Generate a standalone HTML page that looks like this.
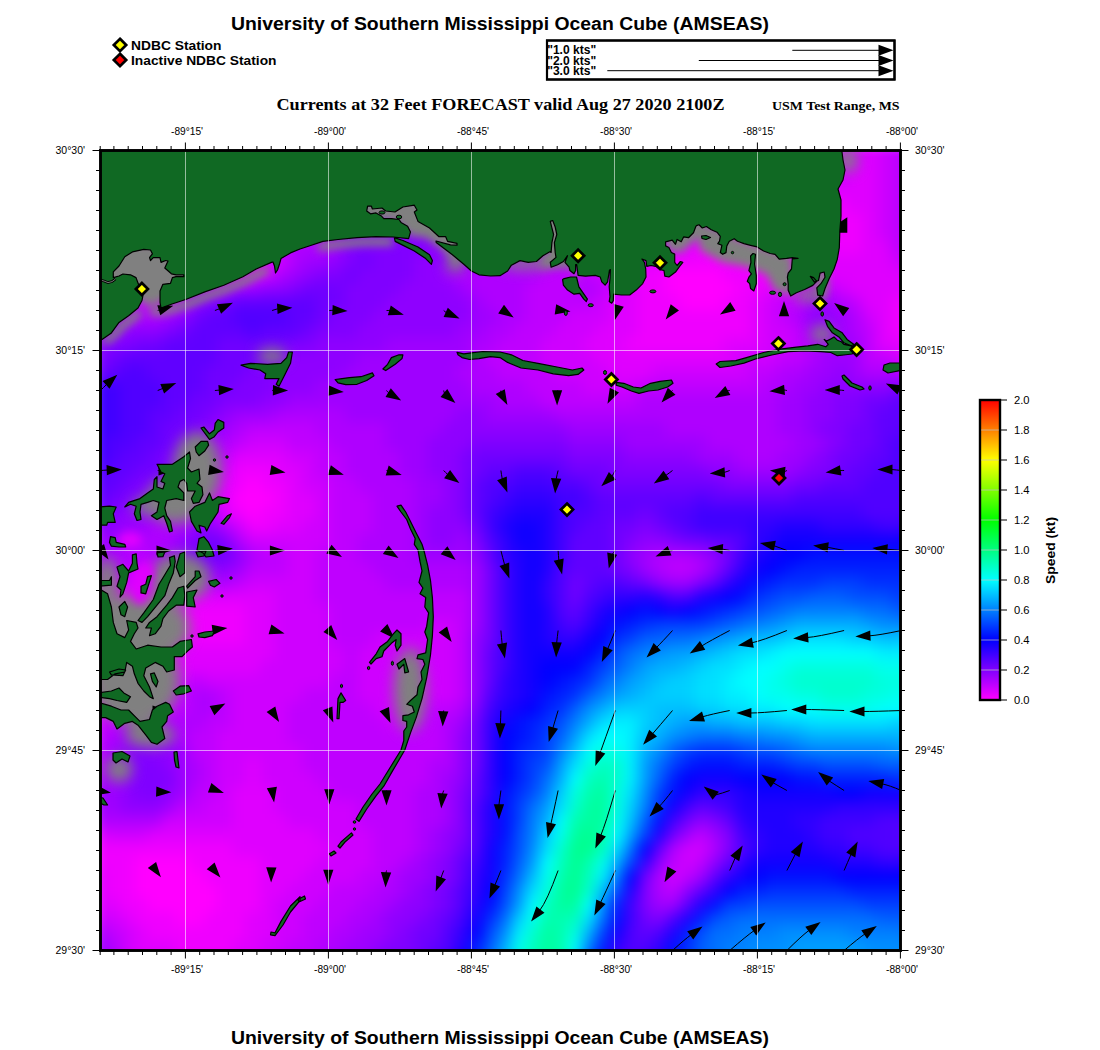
<!DOCTYPE html>
<html><head><meta charset="utf-8"><title>Currents</title>
<style>html,body{margin:0;padding:0;background:#fff}svg{display:block}text{font-family:"Liberation Sans",sans-serif;fill:#000}.ser{font-family:"Liberation Serif",serif;font-weight:bold}.b{font-weight:bold}.ax{font-size:10px}</style></head><body>
<svg width="1100" height="1050" viewBox="0 0 1100 1050">
<defs><clipPath id="mc"><rect x="100.5" y="150.5" width="800" height="800"/></clipPath>
<filter id="bl" color-interpolation-filters="sRGB" x="-10%" y="-10%" width="120%" height="120%"><feGaussianBlur stdDeviation="7"/></filter>
<filter id="bg" color-interpolation-filters="sRGB" x="-50%" y="-50%" width="200%" height="200%"><feGaussianBlur stdDeviation="7"/></filter>
<filter id="bg2" color-interpolation-filters="sRGB" x="-50%" y="-50%" width="200%" height="200%"><feGaussianBlur stdDeviation="4"/></filter>
<linearGradient id="cb" x1="0" y1="0" x2="0" y2="1"><stop offset="0" stop-color="#ff0000"/><stop offset="0.1" stop-color="#ff8000"/><stop offset="0.2" stop-color="#ffff00"/><stop offset="0.3" stop-color="#80ff00"/><stop offset="0.4" stop-color="#00ff00"/><stop offset="0.5" stop-color="#00ff80"/><stop offset="0.6" stop-color="#00ffff"/><stop offset="0.7" stop-color="#0080ff"/><stop offset="0.8" stop-color="#0000ff"/><stop offset="0.9" stop-color="#8000ff"/><stop offset="1" stop-color="#ff00ff"/></linearGradient>
</defs>
<rect width="1100" height="1050" fill="#fff"/>
<g clip-path="url(#mc)">
<g filter="url(#bl)"><rect x="92" y="142" width="127" height="15" fill="#df00ff"/><rect x="218" y="142" width="15" height="15" fill="#ef00ff"/><rect x="232" y="142" width="15" height="15" fill="#bf00ff"/><rect x="246" y="142" width="43" height="15" fill="#9f00ff"/><rect x="288" y="142" width="15" height="15" fill="#bf00ff"/><rect x="302" y="142" width="15" height="15" fill="#af00ff"/><rect x="316" y="142" width="15" height="15" fill="#8f00ff"/><rect x="330" y="142" width="141" height="15" fill="#8000ff"/><rect x="470" y="142" width="15" height="15" fill="#8f00ff"/><rect x="484" y="142" width="57" height="15" fill="#af00ff"/><rect x="540" y="142" width="57" height="15" fill="#bf00ff"/><rect x="596" y="142" width="43" height="15" fill="#df00ff"/><rect x="638" y="142" width="85" height="15" fill="#ff00ff"/><rect x="722" y="142" width="15" height="15" fill="#df00ff"/><rect x="736" y="142" width="127" height="15" fill="#cf00ff"/><rect x="862" y="142" width="15" height="15" fill="#df00ff"/><rect x="876" y="142" width="15" height="15" fill="#cf00ff"/><rect x="890" y="142" width="15" height="15" fill="#bf00ff"/><rect x="904" y="142" width="29" height="15" fill="#af00ff"/><rect x="92" y="156" width="127" height="15" fill="#df00ff"/><rect x="218" y="156" width="15" height="15" fill="#ef00ff"/><rect x="232" y="156" width="15" height="15" fill="#df00ff"/><rect x="246" y="156" width="15" height="15" fill="#af00ff"/><rect x="260" y="156" width="29" height="15" fill="#9f00ff"/><rect x="288" y="156" width="29" height="15" fill="#bf00ff"/><rect x="316" y="156" width="15" height="15" fill="#af00ff"/><rect x="330" y="156" width="15" height="15" fill="#8f00ff"/><rect x="344" y="156" width="127" height="15" fill="#8000ff"/><rect x="470" y="156" width="15" height="15" fill="#8f00ff"/><rect x="484" y="156" width="57" height="15" fill="#af00ff"/><rect x="540" y="156" width="57" height="15" fill="#bf00ff"/><rect x="596" y="156" width="43" height="15" fill="#df00ff"/><rect x="638" y="156" width="85" height="15" fill="#ff00ff"/><rect x="722" y="156" width="15" height="15" fill="#df00ff"/><rect x="736" y="156" width="127" height="15" fill="#cf00ff"/><rect x="862" y="156" width="15" height="15" fill="#df00ff"/><rect x="876" y="156" width="15" height="15" fill="#cf00ff"/><rect x="890" y="156" width="15" height="15" fill="#bf00ff"/><rect x="904" y="156" width="29" height="15" fill="#af00ff"/><rect x="92" y="170" width="127" height="15" fill="#df00ff"/><rect x="218" y="170" width="29" height="15" fill="#ef00ff"/><rect x="246" y="170" width="15" height="15" fill="#bf00ff"/><rect x="260" y="170" width="29" height="15" fill="#9f00ff"/><rect x="288" y="170" width="29" height="15" fill="#bf00ff"/><rect x="316" y="170" width="15" height="15" fill="#af00ff"/><rect x="330" y="170" width="15" height="15" fill="#8f00ff"/><rect x="344" y="170" width="113" height="15" fill="#8000ff"/><rect x="456" y="170" width="15" height="15" fill="#8f00ff"/><rect x="470" y="170" width="15" height="15" fill="#af00ff"/><rect x="484" y="170" width="15" height="15" fill="#bf00ff"/><rect x="498" y="170" width="43" height="15" fill="#af00ff"/><rect x="540" y="170" width="57" height="15" fill="#bf00ff"/><rect x="596" y="170" width="43" height="15" fill="#df00ff"/><rect x="638" y="170" width="85" height="15" fill="#ef00ff"/><rect x="722" y="170" width="15" height="15" fill="#cf00ff"/><rect x="736" y="170" width="57" height="15" fill="#bf00ff"/><rect x="792" y="170" width="57" height="15" fill="#cf00ff"/><rect x="848" y="170" width="29" height="15" fill="#df00ff"/><rect x="876" y="170" width="15" height="15" fill="#cf00ff"/><rect x="890" y="170" width="15" height="15" fill="#bf00ff"/><rect x="904" y="170" width="29" height="15" fill="#af00ff"/><rect x="92" y="184" width="127" height="15" fill="#df00ff"/><rect x="218" y="184" width="15" height="15" fill="#ef00ff"/><rect x="232" y="184" width="15" height="15" fill="#ff00ff"/><rect x="246" y="184" width="15" height="15" fill="#df00ff"/><rect x="260" y="184" width="15" height="15" fill="#af00ff"/><rect x="274" y="184" width="15" height="15" fill="#9f00ff"/><rect x="288" y="184" width="15" height="15" fill="#af00ff"/><rect x="302" y="184" width="15" height="15" fill="#bf00ff"/><rect x="316" y="184" width="15" height="15" fill="#af00ff"/><rect x="330" y="184" width="15" height="15" fill="#8f00ff"/><rect x="344" y="184" width="113" height="15" fill="#8000ff"/><rect x="456" y="184" width="15" height="15" fill="#8f00ff"/><rect x="470" y="184" width="15" height="15" fill="#af00ff"/><rect x="484" y="184" width="29" height="15" fill="#bf00ff"/><rect x="512" y="184" width="29" height="15" fill="#af00ff"/><rect x="540" y="184" width="57" height="15" fill="#bf00ff"/><rect x="596" y="184" width="29" height="15" fill="#cf00ff"/><rect x="624" y="184" width="141" height="15" fill="#bf00ff"/><rect x="764" y="184" width="43" height="15" fill="#cf00ff"/><rect x="806" y="184" width="71" height="15" fill="#df00ff"/><rect x="876" y="184" width="15" height="15" fill="#cf00ff"/><rect x="890" y="184" width="15" height="15" fill="#bf00ff"/><rect x="904" y="184" width="29" height="15" fill="#af00ff"/><rect x="92" y="198" width="113" height="15" fill="#df00ff"/><rect x="204" y="198" width="15" height="15" fill="#cf00ff"/><rect x="218" y="198" width="15" height="15" fill="#ef00ff"/><rect x="232" y="198" width="15" height="15" fill="#ff00ff"/><rect x="246" y="198" width="15" height="15" fill="#ef00ff"/><rect x="260" y="198" width="15" height="15" fill="#bf00ff"/><rect x="274" y="198" width="15" height="15" fill="#9f00ff"/><rect x="288" y="198" width="15" height="15" fill="#af00ff"/><rect x="302" y="198" width="15" height="15" fill="#bf00ff"/><rect x="316" y="198" width="15" height="15" fill="#af00ff"/><rect x="330" y="198" width="15" height="15" fill="#8f00ff"/><rect x="344" y="198" width="43" height="15" fill="#8000ff"/><rect x="386" y="198" width="71" height="15" fill="#8f00ff"/><rect x="456" y="198" width="15" height="15" fill="#9f00ff"/><rect x="470" y="198" width="15" height="15" fill="#af00ff"/><rect x="484" y="198" width="43" height="15" fill="#bf00ff"/><rect x="526" y="198" width="29" height="15" fill="#af00ff"/><rect x="554" y="198" width="29" height="15" fill="#9f00ff"/><rect x="582" y="198" width="99" height="15" fill="#af00ff"/><rect x="680" y="198" width="57" height="15" fill="#bf00ff"/><rect x="736" y="198" width="29" height="15" fill="#cf00ff"/><rect x="764" y="198" width="71" height="15" fill="#df00ff"/><rect x="834" y="198" width="15" height="15" fill="#ef00ff"/><rect x="848" y="198" width="29" height="15" fill="#df00ff"/><rect x="876" y="198" width="15" height="15" fill="#cf00ff"/><rect x="890" y="198" width="15" height="15" fill="#bf00ff"/><rect x="904" y="198" width="29" height="15" fill="#af00ff"/><rect x="92" y="212" width="99" height="15" fill="#df00ff"/><rect x="190" y="212" width="29" height="15" fill="#cf00ff"/><rect x="218" y="212" width="15" height="15" fill="#df00ff"/><rect x="232" y="212" width="15" height="15" fill="#ef00ff"/><rect x="246" y="212" width="15" height="15" fill="#ff00ff"/><rect x="260" y="212" width="15" height="15" fill="#df00ff"/><rect x="274" y="212" width="29" height="15" fill="#af00ff"/><rect x="302" y="212" width="15" height="15" fill="#bf00ff"/><rect x="316" y="212" width="15" height="15" fill="#af00ff"/><rect x="330" y="212" width="15" height="15" fill="#8f00ff"/><rect x="344" y="212" width="29" height="15" fill="#8000ff"/><rect x="372" y="212" width="15" height="15" fill="#8f00ff"/><rect x="386" y="212" width="43" height="15" fill="#af00ff"/><rect x="428" y="212" width="169" height="15" fill="#9f00ff"/><rect x="596" y="212" width="57" height="15" fill="#af00ff"/><rect x="652" y="212" width="57" height="15" fill="#bf00ff"/><rect x="708" y="212" width="29" height="15" fill="#cf00ff"/><rect x="736" y="212" width="85" height="15" fill="#df00ff"/><rect x="820" y="212" width="43" height="15" fill="#ef00ff"/><rect x="862" y="212" width="15" height="15" fill="#df00ff"/><rect x="876" y="212" width="15" height="15" fill="#cf00ff"/><rect x="890" y="212" width="15" height="15" fill="#bf00ff"/><rect x="904" y="212" width="29" height="15" fill="#af00ff"/><rect x="92" y="226" width="99" height="15" fill="#df00ff"/><rect x="190" y="226" width="29" height="15" fill="#cf00ff"/><rect x="218" y="226" width="15" height="15" fill="#df00ff"/><rect x="232" y="226" width="29" height="15" fill="#ef00ff"/><rect x="260" y="226" width="15" height="15" fill="#df00ff"/><rect x="274" y="226" width="15" height="15" fill="#af00ff"/><rect x="288" y="226" width="29" height="15" fill="#bf00ff"/><rect x="316" y="226" width="15" height="15" fill="#af00ff"/><rect x="330" y="226" width="15" height="15" fill="#9f00ff"/><rect x="344" y="226" width="169" height="15" fill="#8f00ff"/><rect x="512" y="226" width="57" height="15" fill="#9f00ff"/><rect x="568" y="226" width="57" height="15" fill="#af00ff"/><rect x="624" y="226" width="57" height="15" fill="#bf00ff"/><rect x="680" y="226" width="29" height="15" fill="#cf00ff"/><rect x="708" y="226" width="29" height="15" fill="#df00ff"/><rect x="736" y="226" width="43" height="15" fill="#ef00ff"/><rect x="778" y="226" width="15" height="15" fill="#df00ff"/><rect x="792" y="226" width="71" height="15" fill="#ef00ff"/><rect x="862" y="226" width="15" height="15" fill="#df00ff"/><rect x="876" y="226" width="15" height="15" fill="#cf00ff"/><rect x="890" y="226" width="43" height="15" fill="#bf00ff"/><rect x="92" y="240" width="99" height="15" fill="#df00ff"/><rect x="190" y="240" width="29" height="15" fill="#cf00ff"/><rect x="218" y="240" width="15" height="15" fill="#df00ff"/><rect x="232" y="240" width="43" height="15" fill="#cf00ff"/><rect x="274" y="240" width="15" height="15" fill="#bf00ff"/><rect x="288" y="240" width="43" height="15" fill="#af00ff"/><rect x="330" y="240" width="15" height="15" fill="#9f00ff"/><rect x="344" y="240" width="85" height="15" fill="#8000ff"/><rect x="428" y="240" width="57" height="15" fill="#8f00ff"/><rect x="484" y="240" width="57" height="15" fill="#9f00ff"/><rect x="540" y="240" width="57" height="15" fill="#af00ff"/><rect x="596" y="240" width="57" height="15" fill="#bf00ff"/><rect x="652" y="240" width="29" height="15" fill="#cf00ff"/><rect x="680" y="240" width="15" height="15" fill="#df00ff"/><rect x="694" y="240" width="169" height="15" fill="#ef00ff"/><rect x="862" y="240" width="29" height="15" fill="#df00ff"/><rect x="890" y="240" width="43" height="15" fill="#bf00ff"/><rect x="92" y="254" width="29" height="15" fill="#cf00ff"/><rect x="120" y="254" width="113" height="15" fill="#df00ff"/><rect x="232" y="254" width="29" height="15" fill="#ef00ff"/><rect x="260" y="254" width="15" height="15" fill="#df00ff"/><rect x="274" y="254" width="15" height="15" fill="#cf00ff"/><rect x="288" y="254" width="15" height="15" fill="#af00ff"/><rect x="302" y="254" width="29" height="15" fill="#9f00ff"/><rect x="330" y="254" width="15" height="15" fill="#8f00ff"/><rect x="344" y="254" width="15" height="15" fill="#8000ff"/><rect x="358" y="254" width="15" height="15" fill="#7000ff"/><rect x="372" y="254" width="43" height="15" fill="#8000ff"/><rect x="414" y="254" width="43" height="15" fill="#8f00ff"/><rect x="456" y="254" width="57" height="15" fill="#9f00ff"/><rect x="512" y="254" width="57" height="15" fill="#af00ff"/><rect x="568" y="254" width="43" height="15" fill="#bf00ff"/><rect x="610" y="254" width="29" height="15" fill="#cf00ff"/><rect x="638" y="254" width="29" height="15" fill="#df00ff"/><rect x="666" y="254" width="127" height="15" fill="#ef00ff"/><rect x="792" y="254" width="99" height="15" fill="#df00ff"/><rect x="890" y="254" width="15" height="15" fill="#cf00ff"/><rect x="904" y="254" width="29" height="15" fill="#bf00ff"/><rect x="92" y="268" width="29" height="15" fill="#bf00ff"/><rect x="120" y="268" width="29" height="15" fill="#cf00ff"/><rect x="148" y="268" width="15" height="15" fill="#df00ff"/><rect x="162" y="268" width="57" height="15" fill="#cf00ff"/><rect x="218" y="268" width="29" height="15" fill="#df00ff"/><rect x="246" y="268" width="29" height="15" fill="#cf00ff"/><rect x="274" y="268" width="15" height="15" fill="#af00ff"/><rect x="288" y="268" width="15" height="15" fill="#9f00ff"/><rect x="302" y="268" width="15" height="15" fill="#8f00ff"/><rect x="316" y="268" width="29" height="15" fill="#8000ff"/><rect x="344" y="268" width="15" height="15" fill="#7000ff"/><rect x="358" y="268" width="57" height="15" fill="#8000ff"/><rect x="414" y="268" width="29" height="15" fill="#8f00ff"/><rect x="442" y="268" width="15" height="15" fill="#9f00ff"/><rect x="456" y="268" width="85" height="15" fill="#af00ff"/><rect x="540" y="268" width="57" height="15" fill="#bf00ff"/><rect x="596" y="268" width="29" height="15" fill="#cf00ff"/><rect x="624" y="268" width="15" height="15" fill="#df00ff"/><rect x="638" y="268" width="29" height="15" fill="#ef00ff"/><rect x="666" y="268" width="57" height="15" fill="#ff00ff"/><rect x="722" y="268" width="57" height="15" fill="#ef00ff"/><rect x="778" y="268" width="155" height="15" fill="#df00ff"/><rect x="92" y="282" width="43" height="15" fill="#bf00ff"/><rect x="134" y="282" width="57" height="15" fill="#cf00ff"/><rect x="190" y="282" width="29" height="15" fill="#bf00ff"/><rect x="218" y="282" width="15" height="15" fill="#af00ff"/><rect x="232" y="282" width="29" height="15" fill="#9f00ff"/><rect x="260" y="282" width="29" height="15" fill="#8f00ff"/><rect x="288" y="282" width="15" height="15" fill="#8000ff"/><rect x="302" y="282" width="43" height="15" fill="#7000ff"/><rect x="344" y="282" width="57" height="15" fill="#8000ff"/><rect x="400" y="282" width="57" height="15" fill="#8f00ff"/><rect x="456" y="282" width="15" height="15" fill="#9f00ff"/><rect x="470" y="282" width="57" height="15" fill="#af00ff"/><rect x="526" y="282" width="57" height="15" fill="#bf00ff"/><rect x="582" y="282" width="15" height="15" fill="#af00ff"/><rect x="596" y="282" width="15" height="15" fill="#bf00ff"/><rect x="610" y="282" width="15" height="15" fill="#cf00ff"/><rect x="624" y="282" width="15" height="15" fill="#df00ff"/><rect x="638" y="282" width="29" height="15" fill="#ef00ff"/><rect x="666" y="282" width="71" height="15" fill="#ff00ff"/><rect x="736" y="282" width="29" height="15" fill="#ef00ff"/><rect x="764" y="282" width="29" height="15" fill="#df00ff"/><rect x="792" y="282" width="15" height="15" fill="#cf00ff"/><rect x="806" y="282" width="29" height="15" fill="#bf00ff"/><rect x="834" y="282" width="15" height="15" fill="#cf00ff"/><rect x="848" y="282" width="85" height="15" fill="#df00ff"/><rect x="92" y="296" width="57" height="15" fill="#bf00ff"/><rect x="148" y="296" width="29" height="15" fill="#cf00ff"/><rect x="176" y="296" width="15" height="15" fill="#af00ff"/><rect x="190" y="296" width="15" height="15" fill="#8f00ff"/><rect x="204" y="296" width="15" height="15" fill="#8000ff"/><rect x="218" y="296" width="15" height="15" fill="#7000ff"/><rect x="232" y="296" width="85" height="15" fill="#6000ff"/><rect x="316" y="296" width="29" height="15" fill="#7000ff"/><rect x="344" y="296" width="43" height="15" fill="#8000ff"/><rect x="386" y="296" width="85" height="15" fill="#8f00ff"/><rect x="470" y="296" width="15" height="15" fill="#9f00ff"/><rect x="484" y="296" width="43" height="15" fill="#af00ff"/><rect x="526" y="296" width="71" height="15" fill="#bf00ff"/><rect x="596" y="296" width="15" height="15" fill="#cf00ff"/><rect x="610" y="296" width="29" height="15" fill="#df00ff"/><rect x="638" y="296" width="43" height="15" fill="#ef00ff"/><rect x="680" y="296" width="43" height="15" fill="#ff00ff"/><rect x="722" y="296" width="29" height="15" fill="#ef00ff"/><rect x="750" y="296" width="15" height="15" fill="#df00ff"/><rect x="764" y="296" width="15" height="15" fill="#cf00ff"/><rect x="778" y="296" width="29" height="15" fill="#bf00ff"/><rect x="806" y="296" width="29" height="15" fill="#9f00ff"/><rect x="834" y="296" width="15" height="15" fill="#af00ff"/><rect x="848" y="296" width="15" height="15" fill="#bf00ff"/><rect x="862" y="296" width="29" height="15" fill="#df00ff"/><rect x="890" y="296" width="43" height="15" fill="#ef00ff"/><rect x="92" y="310" width="15" height="15" fill="#bf00ff"/><rect x="106" y="310" width="57" height="15" fill="#af00ff"/><rect x="162" y="310" width="15" height="15" fill="#9f00ff"/><rect x="176" y="310" width="15" height="15" fill="#8f00ff"/><rect x="190" y="310" width="15" height="15" fill="#7000ff"/><rect x="204" y="310" width="29" height="15" fill="#6000ff"/><rect x="232" y="310" width="57" height="15" fill="#5000ff"/><rect x="288" y="310" width="29" height="15" fill="#6000ff"/><rect x="316" y="310" width="15" height="15" fill="#7000ff"/><rect x="330" y="310" width="43" height="15" fill="#8000ff"/><rect x="372" y="310" width="99" height="15" fill="#8f00ff"/><rect x="470" y="310" width="29" height="15" fill="#9f00ff"/><rect x="498" y="310" width="29" height="15" fill="#af00ff"/><rect x="526" y="310" width="43" height="15" fill="#bf00ff"/><rect x="568" y="310" width="43" height="15" fill="#cf00ff"/><rect x="610" y="310" width="29" height="15" fill="#df00ff"/><rect x="638" y="310" width="113" height="15" fill="#ef00ff"/><rect x="750" y="310" width="15" height="15" fill="#df00ff"/><rect x="764" y="310" width="15" height="15" fill="#cf00ff"/><rect x="778" y="310" width="15" height="15" fill="#bf00ff"/><rect x="792" y="310" width="15" height="15" fill="#af00ff"/><rect x="806" y="310" width="29" height="15" fill="#8f00ff"/><rect x="834" y="310" width="15" height="15" fill="#9f00ff"/><rect x="848" y="310" width="15" height="15" fill="#af00ff"/><rect x="862" y="310" width="15" height="15" fill="#cf00ff"/><rect x="876" y="310" width="15" height="15" fill="#df00ff"/><rect x="890" y="310" width="43" height="15" fill="#ef00ff"/><rect x="92" y="324" width="15" height="15" fill="#af00ff"/><rect x="106" y="324" width="15" height="15" fill="#9f00ff"/><rect x="120" y="324" width="43" height="15" fill="#8f00ff"/><rect x="162" y="324" width="15" height="15" fill="#8000ff"/><rect x="176" y="324" width="15" height="15" fill="#7000ff"/><rect x="190" y="324" width="57" height="15" fill="#6000ff"/><rect x="246" y="324" width="15" height="15" fill="#5000ff"/><rect x="260" y="324" width="43" height="15" fill="#6000ff"/><rect x="302" y="324" width="15" height="15" fill="#7000ff"/><rect x="316" y="324" width="43" height="15" fill="#8000ff"/><rect x="358" y="324" width="99" height="15" fill="#8f00ff"/><rect x="456" y="324" width="29" height="15" fill="#9f00ff"/><rect x="484" y="324" width="29" height="15" fill="#af00ff"/><rect x="512" y="324" width="43" height="15" fill="#bf00ff"/><rect x="554" y="324" width="43" height="15" fill="#cf00ff"/><rect x="596" y="324" width="43" height="15" fill="#df00ff"/><rect x="638" y="324" width="113" height="15" fill="#ef00ff"/><rect x="750" y="324" width="15" height="15" fill="#df00ff"/><rect x="764" y="324" width="29" height="15" fill="#cf00ff"/><rect x="792" y="324" width="15" height="15" fill="#bf00ff"/><rect x="806" y="324" width="43" height="15" fill="#9f00ff"/><rect x="848" y="324" width="15" height="15" fill="#af00ff"/><rect x="862" y="324" width="15" height="15" fill="#bf00ff"/><rect x="876" y="324" width="15" height="15" fill="#df00ff"/><rect x="890" y="324" width="43" height="15" fill="#ef00ff"/><rect x="92" y="338" width="15" height="15" fill="#8f00ff"/><rect x="106" y="338" width="29" height="15" fill="#8000ff"/><rect x="134" y="338" width="29" height="15" fill="#7000ff"/><rect x="162" y="338" width="57" height="15" fill="#6000ff"/><rect x="218" y="338" width="71" height="15" fill="#7000ff"/><rect x="288" y="338" width="29" height="15" fill="#8000ff"/><rect x="316" y="338" width="71" height="15" fill="#8f00ff"/><rect x="386" y="338" width="85" height="15" fill="#9f00ff"/><rect x="470" y="338" width="29" height="15" fill="#af00ff"/><rect x="498" y="338" width="43" height="15" fill="#bf00ff"/><rect x="540" y="338" width="43" height="15" fill="#cf00ff"/><rect x="582" y="338" width="43" height="15" fill="#df00ff"/><rect x="624" y="338" width="99" height="15" fill="#ef00ff"/><rect x="722" y="338" width="43" height="15" fill="#df00ff"/><rect x="764" y="338" width="29" height="15" fill="#cf00ff"/><rect x="792" y="338" width="15" height="15" fill="#bf00ff"/><rect x="806" y="338" width="15" height="15" fill="#af00ff"/><rect x="820" y="338" width="43" height="15" fill="#9f00ff"/><rect x="862" y="338" width="15" height="15" fill="#bf00ff"/><rect x="876" y="338" width="29" height="15" fill="#df00ff"/><rect x="904" y="338" width="29" height="15" fill="#ef00ff"/><rect x="92" y="352" width="15" height="15" fill="#8000ff"/><rect x="106" y="352" width="15" height="15" fill="#7000ff"/><rect x="120" y="352" width="99" height="15" fill="#6000ff"/><rect x="218" y="352" width="43" height="15" fill="#7000ff"/><rect x="260" y="352" width="29" height="15" fill="#8000ff"/><rect x="288" y="352" width="71" height="15" fill="#8f00ff"/><rect x="358" y="352" width="113" height="15" fill="#9f00ff"/><rect x="470" y="352" width="15" height="15" fill="#af00ff"/><rect x="484" y="352" width="57" height="15" fill="#bf00ff"/><rect x="540" y="352" width="57" height="15" fill="#cf00ff"/><rect x="596" y="352" width="141" height="15" fill="#df00ff"/><rect x="736" y="352" width="43" height="15" fill="#cf00ff"/><rect x="778" y="352" width="29" height="15" fill="#bf00ff"/><rect x="806" y="352" width="15" height="15" fill="#af00ff"/><rect x="820" y="352" width="43" height="15" fill="#9f00ff"/><rect x="862" y="352" width="29" height="15" fill="#bf00ff"/><rect x="890" y="352" width="15" height="15" fill="#cf00ff"/><rect x="904" y="352" width="15" height="15" fill="#df00ff"/><rect x="918" y="352" width="15" height="15" fill="#ef00ff"/><rect x="92" y="366" width="15" height="15" fill="#7000ff"/><rect x="106" y="366" width="15" height="15" fill="#6000ff"/><rect x="120" y="366" width="29" height="15" fill="#5000ff"/><rect x="148" y="366" width="57" height="15" fill="#6000ff"/><rect x="204" y="366" width="43" height="15" fill="#7000ff"/><rect x="246" y="366" width="29" height="15" fill="#8000ff"/><rect x="274" y="366" width="71" height="15" fill="#8f00ff"/><rect x="344" y="366" width="113" height="15" fill="#9f00ff"/><rect x="456" y="366" width="43" height="15" fill="#af00ff"/><rect x="498" y="366" width="57" height="15" fill="#bf00ff"/><rect x="554" y="366" width="57" height="15" fill="#cf00ff"/><rect x="610" y="366" width="43" height="15" fill="#df00ff"/><rect x="652" y="366" width="99" height="15" fill="#cf00ff"/><rect x="750" y="366" width="29" height="15" fill="#bf00ff"/><rect x="778" y="366" width="29" height="15" fill="#af00ff"/><rect x="806" y="366" width="29" height="15" fill="#9f00ff"/><rect x="834" y="366" width="15" height="15" fill="#8f00ff"/><rect x="848" y="366" width="15" height="15" fill="#9f00ff"/><rect x="862" y="366" width="43" height="15" fill="#af00ff"/><rect x="904" y="366" width="29" height="15" fill="#cf00ff"/><rect x="92" y="380" width="29" height="15" fill="#4000ff"/><rect x="120" y="380" width="43" height="15" fill="#5000ff"/><rect x="162" y="380" width="43" height="15" fill="#6000ff"/><rect x="204" y="380" width="29" height="15" fill="#7000ff"/><rect x="232" y="380" width="43" height="15" fill="#8000ff"/><rect x="274" y="380" width="43" height="15" fill="#8f00ff"/><rect x="316" y="380" width="155" height="15" fill="#9f00ff"/><rect x="470" y="380" width="57" height="15" fill="#af00ff"/><rect x="526" y="380" width="57" height="15" fill="#bf00ff"/><rect x="582" y="380" width="57" height="15" fill="#cf00ff"/><rect x="638" y="380" width="127" height="15" fill="#bf00ff"/><rect x="764" y="380" width="29" height="15" fill="#af00ff"/><rect x="792" y="380" width="29" height="15" fill="#9f00ff"/><rect x="820" y="380" width="71" height="15" fill="#8f00ff"/><rect x="890" y="380" width="29" height="15" fill="#8000ff"/><rect x="918" y="380" width="15" height="15" fill="#7000ff"/><rect x="92" y="394" width="29" height="15" fill="#4000ff"/><rect x="120" y="394" width="43" height="15" fill="#5000ff"/><rect x="162" y="394" width="29" height="15" fill="#6000ff"/><rect x="190" y="394" width="29" height="15" fill="#7000ff"/><rect x="218" y="394" width="43" height="15" fill="#8000ff"/><rect x="260" y="394" width="29" height="15" fill="#8f00ff"/><rect x="288" y="394" width="211" height="15" fill="#9f00ff"/><rect x="498" y="394" width="43" height="15" fill="#af00ff"/><rect x="540" y="394" width="99" height="15" fill="#bf00ff"/><rect x="638" y="394" width="141" height="15" fill="#af00ff"/><rect x="778" y="394" width="29" height="15" fill="#9f00ff"/><rect x="806" y="394" width="29" height="15" fill="#8f00ff"/><rect x="834" y="394" width="29" height="15" fill="#8000ff"/><rect x="862" y="394" width="29" height="15" fill="#7000ff"/><rect x="890" y="394" width="43" height="15" fill="#6000ff"/><rect x="92" y="408" width="29" height="15" fill="#4000ff"/><rect x="120" y="408" width="29" height="15" fill="#5000ff"/><rect x="148" y="408" width="29" height="15" fill="#6000ff"/><rect x="176" y="408" width="29" height="15" fill="#7000ff"/><rect x="204" y="408" width="15" height="15" fill="#8000ff"/><rect x="218" y="408" width="15" height="15" fill="#8f00ff"/><rect x="232" y="408" width="43" height="15" fill="#9f00ff"/><rect x="274" y="408" width="71" height="15" fill="#af00ff"/><rect x="344" y="408" width="113" height="15" fill="#9f00ff"/><rect x="456" y="408" width="29" height="15" fill="#8f00ff"/><rect x="484" y="408" width="71" height="15" fill="#9f00ff"/><rect x="554" y="408" width="225" height="15" fill="#af00ff"/><rect x="778" y="408" width="29" height="15" fill="#9f00ff"/><rect x="806" y="408" width="29" height="15" fill="#8f00ff"/><rect x="834" y="408" width="29" height="15" fill="#8000ff"/><rect x="862" y="408" width="15" height="15" fill="#7000ff"/><rect x="876" y="408" width="57" height="15" fill="#6000ff"/><rect x="92" y="422" width="29" height="15" fill="#4000ff"/><rect x="120" y="422" width="29" height="15" fill="#5000ff"/><rect x="148" y="422" width="15" height="15" fill="#6000ff"/><rect x="162" y="422" width="29" height="15" fill="#7000ff"/><rect x="190" y="422" width="15" height="15" fill="#8000ff"/><rect x="204" y="422" width="15" height="15" fill="#8f00ff"/><rect x="218" y="422" width="15" height="15" fill="#9f00ff"/><rect x="232" y="422" width="15" height="15" fill="#af00ff"/><rect x="246" y="422" width="71" height="15" fill="#bf00ff"/><rect x="316" y="422" width="71" height="15" fill="#af00ff"/><rect x="386" y="422" width="57" height="15" fill="#9f00ff"/><rect x="442" y="422" width="127" height="15" fill="#8f00ff"/><rect x="568" y="422" width="99" height="15" fill="#9f00ff"/><rect x="666" y="422" width="113" height="15" fill="#af00ff"/><rect x="778" y="422" width="29" height="15" fill="#9f00ff"/><rect x="806" y="422" width="15" height="15" fill="#8f00ff"/><rect x="820" y="422" width="29" height="15" fill="#8000ff"/><rect x="848" y="422" width="29" height="15" fill="#7000ff"/><rect x="876" y="422" width="29" height="15" fill="#6000ff"/><rect x="904" y="422" width="29" height="15" fill="#5000ff"/><rect x="92" y="436" width="15" height="15" fill="#4000ff"/><rect x="106" y="436" width="29" height="15" fill="#5000ff"/><rect x="134" y="436" width="29" height="15" fill="#6000ff"/><rect x="162" y="436" width="15" height="15" fill="#7000ff"/><rect x="176" y="436" width="15" height="15" fill="#8000ff"/><rect x="190" y="436" width="15" height="15" fill="#8f00ff"/><rect x="204" y="436" width="15" height="15" fill="#9f00ff"/><rect x="218" y="436" width="15" height="15" fill="#af00ff"/><rect x="232" y="436" width="15" height="15" fill="#bf00ff"/><rect x="246" y="436" width="43" height="15" fill="#cf00ff"/><rect x="288" y="436" width="43" height="15" fill="#bf00ff"/><rect x="330" y="436" width="57" height="15" fill="#af00ff"/><rect x="386" y="436" width="43" height="15" fill="#9f00ff"/><rect x="428" y="436" width="43" height="15" fill="#8f00ff"/><rect x="470" y="436" width="99" height="15" fill="#8000ff"/><rect x="568" y="436" width="57" height="15" fill="#8f00ff"/><rect x="624" y="436" width="85" height="15" fill="#9f00ff"/><rect x="708" y="436" width="85" height="15" fill="#af00ff"/><rect x="792" y="436" width="29" height="15" fill="#9f00ff"/><rect x="820" y="436" width="15" height="15" fill="#8f00ff"/><rect x="834" y="436" width="15" height="15" fill="#8000ff"/><rect x="848" y="436" width="29" height="15" fill="#7000ff"/><rect x="876" y="436" width="15" height="15" fill="#6000ff"/><rect x="890" y="436" width="43" height="15" fill="#5000ff"/><rect x="92" y="450" width="15" height="15" fill="#4000ff"/><rect x="106" y="450" width="15" height="15" fill="#5000ff"/><rect x="120" y="450" width="29" height="15" fill="#6000ff"/><rect x="148" y="450" width="15" height="15" fill="#7000ff"/><rect x="162" y="450" width="29" height="15" fill="#8000ff"/><rect x="190" y="450" width="15" height="15" fill="#8f00ff"/><rect x="204" y="450" width="15" height="15" fill="#af00ff"/><rect x="218" y="450" width="15" height="15" fill="#bf00ff"/><rect x="232" y="450" width="57" height="15" fill="#df00ff"/><rect x="288" y="450" width="29" height="15" fill="#cf00ff"/><rect x="316" y="450" width="29" height="15" fill="#bf00ff"/><rect x="344" y="450" width="57" height="15" fill="#af00ff"/><rect x="400" y="450" width="29" height="15" fill="#9f00ff"/><rect x="428" y="450" width="29" height="15" fill="#8f00ff"/><rect x="456" y="450" width="15" height="15" fill="#8000ff"/><rect x="470" y="450" width="99" height="15" fill="#7000ff"/><rect x="568" y="450" width="57" height="15" fill="#8000ff"/><rect x="624" y="450" width="71" height="15" fill="#8f00ff"/><rect x="694" y="450" width="43" height="15" fill="#9f00ff"/><rect x="736" y="450" width="43" height="15" fill="#af00ff"/><rect x="778" y="450" width="29" height="15" fill="#9f00ff"/><rect x="806" y="450" width="15" height="15" fill="#8f00ff"/><rect x="820" y="450" width="15" height="15" fill="#8000ff"/><rect x="834" y="450" width="29" height="15" fill="#7000ff"/><rect x="862" y="450" width="29" height="15" fill="#6000ff"/><rect x="890" y="450" width="43" height="15" fill="#5000ff"/><rect x="92" y="464" width="15" height="15" fill="#5000ff"/><rect x="106" y="464" width="29" height="15" fill="#6000ff"/><rect x="134" y="464" width="29" height="15" fill="#7000ff"/><rect x="162" y="464" width="15" height="15" fill="#8000ff"/><rect x="176" y="464" width="15" height="15" fill="#8f00ff"/><rect x="190" y="464" width="15" height="15" fill="#9f00ff"/><rect x="204" y="464" width="15" height="15" fill="#bf00ff"/><rect x="218" y="464" width="15" height="15" fill="#cf00ff"/><rect x="232" y="464" width="43" height="15" fill="#ef00ff"/><rect x="274" y="464" width="29" height="15" fill="#df00ff"/><rect x="302" y="464" width="15" height="15" fill="#cf00ff"/><rect x="316" y="464" width="29" height="15" fill="#bf00ff"/><rect x="344" y="464" width="57" height="15" fill="#af00ff"/><rect x="400" y="464" width="29" height="15" fill="#9f00ff"/><rect x="428" y="464" width="29" height="15" fill="#8f00ff"/><rect x="456" y="464" width="15" height="15" fill="#8000ff"/><rect x="470" y="464" width="15" height="15" fill="#7000ff"/><rect x="484" y="464" width="29" height="15" fill="#6000ff"/><rect x="512" y="464" width="43" height="15" fill="#5000ff"/><rect x="554" y="464" width="15" height="15" fill="#6000ff"/><rect x="568" y="464" width="43" height="15" fill="#7000ff"/><rect x="610" y="464" width="99" height="15" fill="#8000ff"/><rect x="708" y="464" width="29" height="15" fill="#8f00ff"/><rect x="736" y="464" width="57" height="15" fill="#9f00ff"/><rect x="792" y="464" width="15" height="15" fill="#8f00ff"/><rect x="806" y="464" width="29" height="15" fill="#8000ff"/><rect x="834" y="464" width="15" height="15" fill="#7000ff"/><rect x="848" y="464" width="29" height="15" fill="#6000ff"/><rect x="876" y="464" width="57" height="15" fill="#5000ff"/><rect x="92" y="478" width="29" height="15" fill="#6000ff"/><rect x="120" y="478" width="15" height="15" fill="#7000ff"/><rect x="134" y="478" width="29" height="15" fill="#8000ff"/><rect x="162" y="478" width="15" height="15" fill="#8f00ff"/><rect x="176" y="478" width="15" height="15" fill="#9f00ff"/><rect x="190" y="478" width="15" height="15" fill="#af00ff"/><rect x="204" y="478" width="15" height="15" fill="#bf00ff"/><rect x="218" y="478" width="15" height="15" fill="#df00ff"/><rect x="232" y="478" width="15" height="15" fill="#ef00ff"/><rect x="246" y="478" width="15" height="15" fill="#ff00ff"/><rect x="260" y="478" width="29" height="15" fill="#ef00ff"/><rect x="288" y="478" width="15" height="15" fill="#df00ff"/><rect x="302" y="478" width="29" height="15" fill="#cf00ff"/><rect x="330" y="478" width="29" height="15" fill="#bf00ff"/><rect x="358" y="478" width="57" height="15" fill="#af00ff"/><rect x="414" y="478" width="29" height="15" fill="#9f00ff"/><rect x="442" y="478" width="15" height="15" fill="#8f00ff"/><rect x="456" y="478" width="15" height="15" fill="#8000ff"/><rect x="470" y="478" width="15" height="15" fill="#6000ff"/><rect x="484" y="478" width="29" height="15" fill="#5000ff"/><rect x="512" y="478" width="43" height="15" fill="#4000ff"/><rect x="554" y="478" width="29" height="15" fill="#5000ff"/><rect x="582" y="478" width="15" height="15" fill="#6000ff"/><rect x="596" y="478" width="127" height="15" fill="#7000ff"/><rect x="722" y="478" width="71" height="15" fill="#8000ff"/><rect x="792" y="478" width="29" height="15" fill="#7000ff"/><rect x="820" y="478" width="43" height="15" fill="#6000ff"/><rect x="862" y="478" width="71" height="15" fill="#5000ff"/><rect x="92" y="492" width="15" height="15" fill="#6000ff"/><rect x="106" y="492" width="15" height="15" fill="#7000ff"/><rect x="120" y="492" width="29" height="15" fill="#8000ff"/><rect x="148" y="492" width="15" height="15" fill="#8f00ff"/><rect x="162" y="492" width="15" height="15" fill="#9f00ff"/><rect x="176" y="492" width="15" height="15" fill="#af00ff"/><rect x="190" y="492" width="15" height="15" fill="#bf00ff"/><rect x="204" y="492" width="15" height="15" fill="#cf00ff"/><rect x="218" y="492" width="15" height="15" fill="#df00ff"/><rect x="232" y="492" width="43" height="15" fill="#ff00ff"/><rect x="274" y="492" width="15" height="15" fill="#ef00ff"/><rect x="288" y="492" width="29" height="15" fill="#df00ff"/><rect x="316" y="492" width="15" height="15" fill="#cf00ff"/><rect x="330" y="492" width="43" height="15" fill="#bf00ff"/><rect x="372" y="492" width="43" height="15" fill="#af00ff"/><rect x="414" y="492" width="29" height="15" fill="#9f00ff"/><rect x="442" y="492" width="15" height="15" fill="#8f00ff"/><rect x="456" y="492" width="15" height="15" fill="#8000ff"/><rect x="470" y="492" width="15" height="15" fill="#6000ff"/><rect x="484" y="492" width="15" height="15" fill="#5000ff"/><rect x="498" y="492" width="15" height="15" fill="#4000ff"/><rect x="512" y="492" width="43" height="15" fill="#3000ff"/><rect x="554" y="492" width="29" height="15" fill="#4000ff"/><rect x="582" y="492" width="15" height="15" fill="#5000ff"/><rect x="596" y="492" width="99" height="15" fill="#6000ff"/><rect x="694" y="492" width="15" height="15" fill="#5000ff"/><rect x="708" y="492" width="85" height="15" fill="#6000ff"/><rect x="792" y="492" width="141" height="15" fill="#5000ff"/><rect x="92" y="506" width="15" height="15" fill="#7000ff"/><rect x="106" y="506" width="15" height="15" fill="#8000ff"/><rect x="120" y="506" width="29" height="15" fill="#8f00ff"/><rect x="148" y="506" width="15" height="15" fill="#9f00ff"/><rect x="162" y="506" width="57" height="15" fill="#af00ff"/><rect x="218" y="506" width="15" height="15" fill="#df00ff"/><rect x="232" y="506" width="15" height="15" fill="#ef00ff"/><rect x="246" y="506" width="15" height="15" fill="#ff00ff"/><rect x="260" y="506" width="29" height="15" fill="#ef00ff"/><rect x="288" y="506" width="29" height="15" fill="#df00ff"/><rect x="316" y="506" width="15" height="15" fill="#cf00ff"/><rect x="330" y="506" width="43" height="15" fill="#bf00ff"/><rect x="372" y="506" width="43" height="15" fill="#af00ff"/><rect x="414" y="506" width="15" height="15" fill="#9f00ff"/><rect x="428" y="506" width="29" height="15" fill="#8f00ff"/><rect x="456" y="506" width="15" height="15" fill="#8000ff"/><rect x="470" y="506" width="15" height="15" fill="#6000ff"/><rect x="484" y="506" width="15" height="15" fill="#4000ff"/><rect x="498" y="506" width="15" height="15" fill="#3000ff"/><rect x="512" y="506" width="43" height="15" fill="#2000ff"/><rect x="554" y="506" width="15" height="15" fill="#4000ff"/><rect x="568" y="506" width="29" height="15" fill="#5000ff"/><rect x="596" y="506" width="43" height="15" fill="#6000ff"/><rect x="638" y="506" width="15" height="15" fill="#7000ff"/><rect x="652" y="506" width="15" height="15" fill="#6000ff"/><rect x="666" y="506" width="29" height="15" fill="#5000ff"/><rect x="694" y="506" width="169" height="15" fill="#4000ff"/><rect x="862" y="506" width="71" height="15" fill="#5000ff"/><rect x="92" y="520" width="29" height="15" fill="#8f00ff"/><rect x="120" y="520" width="29" height="15" fill="#9f00ff"/><rect x="148" y="520" width="43" height="15" fill="#af00ff"/><rect x="190" y="520" width="29" height="15" fill="#8f00ff"/><rect x="218" y="520" width="15" height="15" fill="#af00ff"/><rect x="232" y="520" width="15" height="15" fill="#cf00ff"/><rect x="246" y="520" width="29" height="15" fill="#ef00ff"/><rect x="274" y="520" width="29" height="15" fill="#df00ff"/><rect x="302" y="520" width="29" height="15" fill="#cf00ff"/><rect x="330" y="520" width="43" height="15" fill="#bf00ff"/><rect x="372" y="520" width="43" height="15" fill="#af00ff"/><rect x="414" y="520" width="15" height="15" fill="#9f00ff"/><rect x="428" y="520" width="43" height="15" fill="#8f00ff"/><rect x="470" y="520" width="15" height="15" fill="#7000ff"/><rect x="484" y="520" width="15" height="15" fill="#4000ff"/><rect x="498" y="520" width="15" height="15" fill="#2000ff"/><rect x="512" y="520" width="29" height="15" fill="#1000ff"/><rect x="540" y="520" width="15" height="15" fill="#2000ff"/><rect x="554" y="520" width="15" height="15" fill="#4000ff"/><rect x="568" y="520" width="15" height="15" fill="#5000ff"/><rect x="582" y="520" width="29" height="15" fill="#6000ff"/><rect x="610" y="520" width="29" height="15" fill="#7000ff"/><rect x="638" y="520" width="15" height="15" fill="#8000ff"/><rect x="652" y="520" width="15" height="15" fill="#7000ff"/><rect x="666" y="520" width="15" height="15" fill="#6000ff"/><rect x="680" y="520" width="15" height="15" fill="#5000ff"/><rect x="694" y="520" width="57" height="15" fill="#4000ff"/><rect x="750" y="520" width="29" height="15" fill="#3000ff"/><rect x="778" y="520" width="43" height="15" fill="#2000ff"/><rect x="820" y="520" width="57" height="15" fill="#3000ff"/><rect x="876" y="520" width="29" height="15" fill="#4000ff"/><rect x="904" y="520" width="29" height="15" fill="#3000ff"/><rect x="92" y="534" width="43" height="15" fill="#9f00ff"/><rect x="134" y="534" width="43" height="15" fill="#af00ff"/><rect x="176" y="534" width="15" height="15" fill="#8f00ff"/><rect x="190" y="534" width="15" height="15" fill="#8000ff"/><rect x="204" y="534" width="15" height="15" fill="#7000ff"/><rect x="218" y="534" width="15" height="15" fill="#8000ff"/><rect x="232" y="534" width="15" height="15" fill="#af00ff"/><rect x="246" y="534" width="85" height="15" fill="#cf00ff"/><rect x="330" y="534" width="29" height="15" fill="#bf00ff"/><rect x="358" y="534" width="57" height="15" fill="#af00ff"/><rect x="414" y="534" width="15" height="15" fill="#9f00ff"/><rect x="428" y="534" width="29" height="15" fill="#8f00ff"/><rect x="456" y="534" width="15" height="15" fill="#9f00ff"/><rect x="470" y="534" width="15" height="15" fill="#8000ff"/><rect x="484" y="534" width="15" height="15" fill="#5000ff"/><rect x="498" y="534" width="15" height="15" fill="#3000ff"/><rect x="512" y="534" width="29" height="15" fill="#1000ff"/><rect x="540" y="534" width="15" height="15" fill="#2000ff"/><rect x="554" y="534" width="15" height="15" fill="#4000ff"/><rect x="568" y="534" width="43" height="15" fill="#6000ff"/><rect x="610" y="534" width="15" height="15" fill="#7000ff"/><rect x="624" y="534" width="15" height="15" fill="#8000ff"/><rect x="638" y="534" width="29" height="15" fill="#8f00ff"/><rect x="666" y="534" width="15" height="15" fill="#8000ff"/><rect x="680" y="534" width="29" height="15" fill="#7000ff"/><rect x="708" y="534" width="29" height="15" fill="#6000ff"/><rect x="736" y="534" width="15" height="15" fill="#5000ff"/><rect x="750" y="534" width="15" height="15" fill="#3000ff"/><rect x="764" y="534" width="15" height="15" fill="#2000ff"/><rect x="778" y="534" width="127" height="15" fill="#1000ff"/><rect x="904" y="534" width="29" height="15" fill="#0000ff"/><rect x="92" y="548" width="15" height="15" fill="#9f00ff"/><rect x="106" y="548" width="29" height="15" fill="#af00ff"/><rect x="134" y="548" width="15" height="15" fill="#bf00ff"/><rect x="148" y="548" width="15" height="15" fill="#af00ff"/><rect x="162" y="548" width="15" height="15" fill="#9f00ff"/><rect x="176" y="548" width="15" height="15" fill="#8f00ff"/><rect x="190" y="548" width="43" height="15" fill="#7000ff"/><rect x="232" y="548" width="15" height="15" fill="#8f00ff"/><rect x="246" y="548" width="15" height="15" fill="#af00ff"/><rect x="260" y="548" width="29" height="15" fill="#bf00ff"/><rect x="288" y="548" width="29" height="15" fill="#cf00ff"/><rect x="316" y="548" width="43" height="15" fill="#bf00ff"/><rect x="358" y="548" width="57" height="15" fill="#af00ff"/><rect x="414" y="548" width="57" height="15" fill="#9f00ff"/><rect x="470" y="548" width="15" height="15" fill="#8f00ff"/><rect x="484" y="548" width="15" height="15" fill="#6000ff"/><rect x="498" y="548" width="15" height="15" fill="#3000ff"/><rect x="512" y="548" width="15" height="15" fill="#2000ff"/><rect x="526" y="548" width="15" height="15" fill="#1000ff"/><rect x="540" y="548" width="15" height="15" fill="#2000ff"/><rect x="554" y="548" width="15" height="15" fill="#4000ff"/><rect x="568" y="548" width="43" height="15" fill="#6000ff"/><rect x="610" y="548" width="15" height="15" fill="#7000ff"/><rect x="624" y="548" width="15" height="15" fill="#8f00ff"/><rect x="638" y="548" width="15" height="15" fill="#9f00ff"/><rect x="652" y="548" width="43" height="15" fill="#af00ff"/><rect x="694" y="548" width="15" height="15" fill="#9f00ff"/><rect x="708" y="548" width="15" height="15" fill="#8f00ff"/><rect x="722" y="548" width="15" height="15" fill="#7000ff"/><rect x="736" y="548" width="15" height="15" fill="#4000ff"/><rect x="750" y="548" width="15" height="15" fill="#2000ff"/><rect x="764" y="548" width="15" height="15" fill="#1000ff"/><rect x="778" y="548" width="29" height="15" fill="#0000ff"/><rect x="806" y="548" width="127" height="15" fill="#0010ff"/><rect x="92" y="562" width="29" height="15" fill="#af00ff"/><rect x="120" y="562" width="43" height="15" fill="#bf00ff"/><rect x="162" y="562" width="15" height="15" fill="#af00ff"/><rect x="176" y="562" width="15" height="15" fill="#9f00ff"/><rect x="190" y="562" width="43" height="15" fill="#8f00ff"/><rect x="232" y="562" width="15" height="15" fill="#9f00ff"/><rect x="246" y="562" width="43" height="15" fill="#bf00ff"/><rect x="288" y="562" width="29" height="15" fill="#cf00ff"/><rect x="316" y="562" width="57" height="15" fill="#bf00ff"/><rect x="372" y="562" width="99" height="15" fill="#af00ff"/><rect x="470" y="562" width="15" height="15" fill="#9f00ff"/><rect x="484" y="562" width="15" height="15" fill="#7000ff"/><rect x="498" y="562" width="15" height="15" fill="#4000ff"/><rect x="512" y="562" width="15" height="15" fill="#2000ff"/><rect x="526" y="562" width="15" height="15" fill="#1000ff"/><rect x="540" y="562" width="15" height="15" fill="#2000ff"/><rect x="554" y="562" width="15" height="15" fill="#5000ff"/><rect x="568" y="562" width="43" height="15" fill="#6000ff"/><rect x="610" y="562" width="15" height="15" fill="#7000ff"/><rect x="624" y="562" width="15" height="15" fill="#8000ff"/><rect x="638" y="562" width="15" height="15" fill="#9f00ff"/><rect x="652" y="562" width="15" height="15" fill="#af00ff"/><rect x="666" y="562" width="29" height="15" fill="#bf00ff"/><rect x="694" y="562" width="15" height="15" fill="#af00ff"/><rect x="708" y="562" width="15" height="15" fill="#8f00ff"/><rect x="722" y="562" width="15" height="15" fill="#6000ff"/><rect x="736" y="562" width="15" height="15" fill="#3000ff"/><rect x="750" y="562" width="15" height="15" fill="#1000ff"/><rect x="764" y="562" width="15" height="15" fill="#0000ff"/><rect x="778" y="562" width="15" height="15" fill="#0010ff"/><rect x="792" y="562" width="141" height="15" fill="#0020ff"/><rect x="92" y="576" width="71" height="15" fill="#cf00ff"/><rect x="162" y="576" width="43" height="15" fill="#bf00ff"/><rect x="204" y="576" width="29" height="15" fill="#af00ff"/><rect x="232" y="576" width="15" height="15" fill="#bf00ff"/><rect x="246" y="576" width="71" height="15" fill="#cf00ff"/><rect x="316" y="576" width="71" height="15" fill="#bf00ff"/><rect x="386" y="576" width="85" height="15" fill="#af00ff"/><rect x="470" y="576" width="15" height="15" fill="#9f00ff"/><rect x="484" y="576" width="15" height="15" fill="#7000ff"/><rect x="498" y="576" width="15" height="15" fill="#4000ff"/><rect x="512" y="576" width="15" height="15" fill="#2000ff"/><rect x="526" y="576" width="15" height="15" fill="#1000ff"/><rect x="540" y="576" width="15" height="15" fill="#3000ff"/><rect x="554" y="576" width="15" height="15" fill="#5000ff"/><rect x="568" y="576" width="15" height="15" fill="#7000ff"/><rect x="582" y="576" width="15" height="15" fill="#6000ff"/><rect x="596" y="576" width="29" height="15" fill="#5000ff"/><rect x="624" y="576" width="15" height="15" fill="#6000ff"/><rect x="638" y="576" width="15" height="15" fill="#7000ff"/><rect x="652" y="576" width="15" height="15" fill="#8f00ff"/><rect x="666" y="576" width="29" height="15" fill="#9f00ff"/><rect x="694" y="576" width="15" height="15" fill="#8000ff"/><rect x="708" y="576" width="15" height="15" fill="#6000ff"/><rect x="722" y="576" width="15" height="15" fill="#3000ff"/><rect x="736" y="576" width="15" height="15" fill="#1000ff"/><rect x="750" y="576" width="15" height="15" fill="#0010ff"/><rect x="764" y="576" width="15" height="15" fill="#0020ff"/><rect x="778" y="576" width="43" height="15" fill="#0030ff"/><rect x="820" y="576" width="43" height="15" fill="#0040ff"/><rect x="862" y="576" width="71" height="15" fill="#0030ff"/><rect x="92" y="590" width="71" height="15" fill="#df00ff"/><rect x="162" y="590" width="15" height="15" fill="#cf00ff"/><rect x="176" y="590" width="99" height="15" fill="#df00ff"/><rect x="274" y="590" width="43" height="15" fill="#cf00ff"/><rect x="316" y="590" width="155" height="15" fill="#bf00ff"/><rect x="470" y="590" width="15" height="15" fill="#9f00ff"/><rect x="484" y="590" width="15" height="15" fill="#7000ff"/><rect x="498" y="590" width="15" height="15" fill="#4000ff"/><rect x="512" y="590" width="15" height="15" fill="#2000ff"/><rect x="526" y="590" width="15" height="15" fill="#1000ff"/><rect x="540" y="590" width="15" height="15" fill="#3000ff"/><rect x="554" y="590" width="15" height="15" fill="#5000ff"/><rect x="568" y="590" width="15" height="15" fill="#7000ff"/><rect x="582" y="590" width="15" height="15" fill="#5000ff"/><rect x="596" y="590" width="15" height="15" fill="#4000ff"/><rect x="610" y="590" width="29" height="15" fill="#3000ff"/><rect x="638" y="590" width="15" height="15" fill="#2000ff"/><rect x="652" y="590" width="15" height="15" fill="#3000ff"/><rect x="666" y="590" width="29" height="15" fill="#5000ff"/><rect x="694" y="590" width="15" height="15" fill="#2000ff"/><rect x="708" y="590" width="15" height="15" fill="#1000ff"/><rect x="722" y="590" width="15" height="15" fill="#0000ff"/><rect x="736" y="590" width="15" height="15" fill="#0010ff"/><rect x="750" y="590" width="15" height="15" fill="#0030ff"/><rect x="764" y="590" width="15" height="15" fill="#0040ff"/><rect x="778" y="590" width="29" height="15" fill="#0050ff"/><rect x="806" y="590" width="43" height="15" fill="#0060ff"/><rect x="848" y="590" width="43" height="15" fill="#0050ff"/><rect x="890" y="590" width="43" height="15" fill="#0040ff"/><rect x="92" y="604" width="99" height="15" fill="#df00ff"/><rect x="190" y="604" width="57" height="15" fill="#ef00ff"/><rect x="246" y="604" width="29" height="15" fill="#df00ff"/><rect x="274" y="604" width="57" height="15" fill="#cf00ff"/><rect x="330" y="604" width="141" height="15" fill="#bf00ff"/><rect x="470" y="604" width="15" height="15" fill="#9f00ff"/><rect x="484" y="604" width="15" height="15" fill="#7000ff"/><rect x="498" y="604" width="15" height="15" fill="#4000ff"/><rect x="512" y="604" width="15" height="15" fill="#2000ff"/><rect x="526" y="604" width="15" height="15" fill="#1000ff"/><rect x="540" y="604" width="15" height="15" fill="#2000ff"/><rect x="554" y="604" width="15" height="15" fill="#5000ff"/><rect x="568" y="604" width="15" height="15" fill="#6000ff"/><rect x="582" y="604" width="15" height="15" fill="#4000ff"/><rect x="596" y="604" width="15" height="15" fill="#2000ff"/><rect x="610" y="604" width="15" height="15" fill="#1000ff"/><rect x="624" y="604" width="15" height="15" fill="#0000ff"/><rect x="638" y="604" width="15" height="15" fill="#0010ff"/><rect x="652" y="604" width="15" height="15" fill="#0000ff"/><rect x="666" y="604" width="15" height="15" fill="#1000ff"/><rect x="680" y="604" width="15" height="15" fill="#0000ff"/><rect x="694" y="604" width="15" height="15" fill="#0010ff"/><rect x="708" y="604" width="15" height="15" fill="#0020ff"/><rect x="722" y="604" width="15" height="15" fill="#0030ff"/><rect x="736" y="604" width="15" height="15" fill="#0040ff"/><rect x="750" y="604" width="15" height="15" fill="#0050ff"/><rect x="764" y="604" width="15" height="15" fill="#0060ff"/><rect x="778" y="604" width="15" height="15" fill="#0070ff"/><rect x="792" y="604" width="71" height="15" fill="#0080ff"/><rect x="862" y="604" width="29" height="15" fill="#0070ff"/><rect x="890" y="604" width="15" height="15" fill="#0060ff"/><rect x="904" y="604" width="29" height="15" fill="#0050ff"/><rect x="92" y="618" width="85" height="15" fill="#df00ff"/><rect x="176" y="618" width="71" height="15" fill="#ef00ff"/><rect x="246" y="618" width="29" height="15" fill="#df00ff"/><rect x="274" y="618" width="57" height="15" fill="#cf00ff"/><rect x="330" y="618" width="99" height="15" fill="#bf00ff"/><rect x="428" y="618" width="29" height="15" fill="#cf00ff"/><rect x="456" y="618" width="15" height="15" fill="#bf00ff"/><rect x="470" y="618" width="15" height="15" fill="#9f00ff"/><rect x="484" y="618" width="15" height="15" fill="#7000ff"/><rect x="498" y="618" width="15" height="15" fill="#4000ff"/><rect x="512" y="618" width="15" height="15" fill="#2000ff"/><rect x="526" y="618" width="15" height="15" fill="#1000ff"/><rect x="540" y="618" width="15" height="15" fill="#2000ff"/><rect x="554" y="618" width="15" height="15" fill="#4000ff"/><rect x="568" y="618" width="15" height="15" fill="#5000ff"/><rect x="582" y="618" width="15" height="15" fill="#3000ff"/><rect x="596" y="618" width="15" height="15" fill="#1000ff"/><rect x="610" y="618" width="15" height="15" fill="#0010ff"/><rect x="624" y="618" width="15" height="15" fill="#0020ff"/><rect x="638" y="618" width="15" height="15" fill="#0030ff"/><rect x="652" y="618" width="57" height="15" fill="#0040ff"/><rect x="708" y="618" width="15" height="15" fill="#0050ff"/><rect x="722" y="618" width="15" height="15" fill="#0060ff"/><rect x="736" y="618" width="15" height="15" fill="#0070ff"/><rect x="750" y="618" width="15" height="15" fill="#0080ff"/><rect x="764" y="618" width="15" height="15" fill="#008fff"/><rect x="778" y="618" width="15" height="15" fill="#009fff"/><rect x="792" y="618" width="71" height="15" fill="#00afff"/><rect x="862" y="618" width="15" height="15" fill="#009fff"/><rect x="876" y="618" width="29" height="15" fill="#008fff"/><rect x="904" y="618" width="29" height="15" fill="#0080ff"/><rect x="92" y="632" width="99" height="15" fill="#df00ff"/><rect x="190" y="632" width="57" height="15" fill="#ef00ff"/><rect x="246" y="632" width="29" height="15" fill="#df00ff"/><rect x="274" y="632" width="57" height="15" fill="#cf00ff"/><rect x="330" y="632" width="43" height="15" fill="#bf00ff"/><rect x="372" y="632" width="85" height="15" fill="#cf00ff"/><rect x="456" y="632" width="15" height="15" fill="#bf00ff"/><rect x="470" y="632" width="15" height="15" fill="#8f00ff"/><rect x="484" y="632" width="15" height="15" fill="#7000ff"/><rect x="498" y="632" width="15" height="15" fill="#4000ff"/><rect x="512" y="632" width="15" height="15" fill="#2000ff"/><rect x="526" y="632" width="15" height="15" fill="#1000ff"/><rect x="540" y="632" width="15" height="15" fill="#2000ff"/><rect x="554" y="632" width="29" height="15" fill="#3000ff"/><rect x="582" y="632" width="15" height="15" fill="#1000ff"/><rect x="596" y="632" width="15" height="15" fill="#0000ff"/><rect x="610" y="632" width="15" height="15" fill="#0030ff"/><rect x="624" y="632" width="15" height="15" fill="#0040ff"/><rect x="638" y="632" width="29" height="15" fill="#0060ff"/><rect x="666" y="632" width="29" height="15" fill="#0070ff"/><rect x="694" y="632" width="15" height="15" fill="#0080ff"/><rect x="708" y="632" width="15" height="15" fill="#008fff"/><rect x="722" y="632" width="15" height="15" fill="#009fff"/><rect x="736" y="632" width="15" height="15" fill="#00afff"/><rect x="750" y="632" width="29" height="15" fill="#00bfff"/><rect x="778" y="632" width="15" height="15" fill="#00cfff"/><rect x="792" y="632" width="57" height="15" fill="#00dfff"/><rect x="848" y="632" width="29" height="15" fill="#00cfff"/><rect x="876" y="632" width="29" height="15" fill="#00bfff"/><rect x="904" y="632" width="29" height="15" fill="#00cfff"/><rect x="92" y="646" width="183" height="15" fill="#df00ff"/><rect x="274" y="646" width="71" height="15" fill="#cf00ff"/><rect x="344" y="646" width="15" height="15" fill="#bf00ff"/><rect x="358" y="646" width="99" height="15" fill="#cf00ff"/><rect x="456" y="646" width="15" height="15" fill="#bf00ff"/><rect x="470" y="646" width="15" height="15" fill="#8f00ff"/><rect x="484" y="646" width="15" height="15" fill="#6000ff"/><rect x="498" y="646" width="15" height="15" fill="#4000ff"/><rect x="512" y="646" width="15" height="15" fill="#2000ff"/><rect x="526" y="646" width="57" height="15" fill="#1000ff"/><rect x="582" y="646" width="15" height="15" fill="#0000ff"/><rect x="596" y="646" width="15" height="15" fill="#0020ff"/><rect x="610" y="646" width="15" height="15" fill="#0050ff"/><rect x="624" y="646" width="15" height="15" fill="#0070ff"/><rect x="638" y="646" width="15" height="15" fill="#0080ff"/><rect x="652" y="646" width="15" height="15" fill="#008fff"/><rect x="666" y="646" width="29" height="15" fill="#009fff"/><rect x="694" y="646" width="15" height="15" fill="#00afff"/><rect x="708" y="646" width="15" height="15" fill="#00bfff"/><rect x="722" y="646" width="15" height="15" fill="#00cfff"/><rect x="736" y="646" width="29" height="15" fill="#00dfff"/><rect x="764" y="646" width="15" height="15" fill="#00efff"/><rect x="778" y="646" width="99" height="15" fill="#00ffff"/><rect x="876" y="646" width="57" height="15" fill="#00efff"/><rect x="92" y="660" width="169" height="15" fill="#df00ff"/><rect x="260" y="660" width="85" height="15" fill="#cf00ff"/><rect x="344" y="660" width="15" height="15" fill="#bf00ff"/><rect x="358" y="660" width="99" height="15" fill="#cf00ff"/><rect x="456" y="660" width="15" height="15" fill="#bf00ff"/><rect x="470" y="660" width="15" height="15" fill="#8f00ff"/><rect x="484" y="660" width="15" height="15" fill="#6000ff"/><rect x="498" y="660" width="15" height="15" fill="#4000ff"/><rect x="512" y="660" width="15" height="15" fill="#2000ff"/><rect x="526" y="660" width="15" height="15" fill="#1000ff"/><rect x="540" y="660" width="43" height="15" fill="#0000ff"/><rect x="582" y="660" width="15" height="15" fill="#0020ff"/><rect x="596" y="660" width="15" height="15" fill="#0040ff"/><rect x="610" y="660" width="15" height="15" fill="#0060ff"/><rect x="624" y="660" width="15" height="15" fill="#0080ff"/><rect x="638" y="660" width="15" height="15" fill="#009fff"/><rect x="652" y="660" width="29" height="15" fill="#00afff"/><rect x="680" y="660" width="15" height="15" fill="#00bfff"/><rect x="694" y="660" width="15" height="15" fill="#00cfff"/><rect x="708" y="660" width="29" height="15" fill="#00dfff"/><rect x="736" y="660" width="15" height="15" fill="#00efff"/><rect x="750" y="660" width="29" height="15" fill="#00ffff"/><rect x="778" y="660" width="15" height="15" fill="#00ffef"/><rect x="792" y="660" width="85" height="15" fill="#00ffdf"/><rect x="876" y="660" width="57" height="15" fill="#00ffef"/><rect x="92" y="674" width="71" height="15" fill="#df00ff"/><rect x="162" y="674" width="29" height="15" fill="#cf00ff"/><rect x="190" y="674" width="15" height="15" fill="#bf00ff"/><rect x="204" y="674" width="127" height="15" fill="#cf00ff"/><rect x="330" y="674" width="29" height="15" fill="#bf00ff"/><rect x="358" y="674" width="99" height="15" fill="#cf00ff"/><rect x="456" y="674" width="15" height="15" fill="#bf00ff"/><rect x="470" y="674" width="15" height="15" fill="#8f00ff"/><rect x="484" y="674" width="15" height="15" fill="#6000ff"/><rect x="498" y="674" width="15" height="15" fill="#3000ff"/><rect x="512" y="674" width="15" height="15" fill="#2000ff"/><rect x="526" y="674" width="15" height="15" fill="#1000ff"/><rect x="540" y="674" width="15" height="15" fill="#0000ff"/><rect x="554" y="674" width="15" height="15" fill="#0010ff"/><rect x="568" y="674" width="15" height="15" fill="#0020ff"/><rect x="582" y="674" width="15" height="15" fill="#0030ff"/><rect x="596" y="674" width="15" height="15" fill="#0060ff"/><rect x="610" y="674" width="15" height="15" fill="#0080ff"/><rect x="624" y="674" width="15" height="15" fill="#009fff"/><rect x="638" y="674" width="15" height="15" fill="#00afff"/><rect x="652" y="674" width="15" height="15" fill="#00bfff"/><rect x="666" y="674" width="29" height="15" fill="#00cfff"/><rect x="694" y="674" width="29" height="15" fill="#00dfff"/><rect x="722" y="674" width="15" height="15" fill="#00efff"/><rect x="736" y="674" width="29" height="15" fill="#00ffff"/><rect x="764" y="674" width="15" height="15" fill="#00ffef"/><rect x="778" y="674" width="15" height="15" fill="#00ffdf"/><rect x="792" y="674" width="85" height="15" fill="#00ffcf"/><rect x="876" y="674" width="57" height="15" fill="#00ffdf"/><rect x="92" y="688" width="57" height="15" fill="#df00ff"/><rect x="148" y="688" width="29" height="15" fill="#cf00ff"/><rect x="176" y="688" width="15" height="15" fill="#bf00ff"/><rect x="190" y="688" width="29" height="15" fill="#af00ff"/><rect x="218" y="688" width="15" height="15" fill="#bf00ff"/><rect x="232" y="688" width="71" height="15" fill="#cf00ff"/><rect x="302" y="688" width="57" height="15" fill="#bf00ff"/><rect x="358" y="688" width="99" height="15" fill="#cf00ff"/><rect x="456" y="688" width="15" height="15" fill="#bf00ff"/><rect x="470" y="688" width="15" height="15" fill="#8f00ff"/><rect x="484" y="688" width="15" height="15" fill="#5000ff"/><rect x="498" y="688" width="15" height="15" fill="#3000ff"/><rect x="512" y="688" width="15" height="15" fill="#2000ff"/><rect x="526" y="688" width="15" height="15" fill="#1000ff"/><rect x="540" y="688" width="15" height="15" fill="#0010ff"/><rect x="554" y="688" width="15" height="15" fill="#0020ff"/><rect x="568" y="688" width="15" height="15" fill="#0030ff"/><rect x="582" y="688" width="15" height="15" fill="#0060ff"/><rect x="596" y="688" width="15" height="15" fill="#0080ff"/><rect x="610" y="688" width="15" height="15" fill="#009fff"/><rect x="624" y="688" width="15" height="15" fill="#00afff"/><rect x="638" y="688" width="15" height="15" fill="#00bfff"/><rect x="652" y="688" width="43" height="15" fill="#00cfff"/><rect x="694" y="688" width="29" height="15" fill="#00dfff"/><rect x="722" y="688" width="29" height="15" fill="#00efff"/><rect x="750" y="688" width="15" height="15" fill="#00ffff"/><rect x="764" y="688" width="29" height="15" fill="#00ffef"/><rect x="792" y="688" width="29" height="15" fill="#00ffdf"/><rect x="820" y="688" width="43" height="15" fill="#00ffcf"/><rect x="862" y="688" width="29" height="15" fill="#00ffdf"/><rect x="890" y="688" width="43" height="15" fill="#00ffef"/><rect x="92" y="702" width="15" height="15" fill="#df00ff"/><rect x="106" y="702" width="43" height="15" fill="#cf00ff"/><rect x="148" y="702" width="43" height="15" fill="#bf00ff"/><rect x="190" y="702" width="29" height="15" fill="#af00ff"/><rect x="218" y="702" width="15" height="15" fill="#bf00ff"/><rect x="232" y="702" width="57" height="15" fill="#cf00ff"/><rect x="288" y="702" width="85" height="15" fill="#bf00ff"/><rect x="372" y="702" width="43" height="15" fill="#cf00ff"/><rect x="414" y="702" width="43" height="15" fill="#bf00ff"/><rect x="456" y="702" width="15" height="15" fill="#af00ff"/><rect x="470" y="702" width="15" height="15" fill="#8000ff"/><rect x="484" y="702" width="15" height="15" fill="#4000ff"/><rect x="498" y="702" width="15" height="15" fill="#2000ff"/><rect x="512" y="702" width="15" height="15" fill="#1000ff"/><rect x="526" y="702" width="15" height="15" fill="#0000ff"/><rect x="540" y="702" width="15" height="15" fill="#0020ff"/><rect x="554" y="702" width="15" height="15" fill="#0030ff"/><rect x="568" y="702" width="15" height="15" fill="#0060ff"/><rect x="582" y="702" width="15" height="15" fill="#008fff"/><rect x="596" y="702" width="15" height="15" fill="#00afff"/><rect x="610" y="702" width="43" height="15" fill="#00cfff"/><rect x="652" y="702" width="43" height="15" fill="#00bfff"/><rect x="694" y="702" width="29" height="15" fill="#00cfff"/><rect x="722" y="702" width="29" height="15" fill="#00dfff"/><rect x="750" y="702" width="29" height="15" fill="#00efff"/><rect x="778" y="702" width="43" height="15" fill="#00ffff"/><rect x="820" y="702" width="57" height="15" fill="#00ffef"/><rect x="876" y="702" width="57" height="15" fill="#00ffff"/><rect x="92" y="716" width="15" height="15" fill="#cf00ff"/><rect x="106" y="716" width="15" height="15" fill="#bf00ff"/><rect x="120" y="716" width="85" height="15" fill="#af00ff"/><rect x="204" y="716" width="29" height="15" fill="#bf00ff"/><rect x="232" y="716" width="57" height="15" fill="#cf00ff"/><rect x="288" y="716" width="99" height="15" fill="#bf00ff"/><rect x="386" y="716" width="15" height="15" fill="#cf00ff"/><rect x="400" y="716" width="43" height="15" fill="#bf00ff"/><rect x="442" y="716" width="15" height="15" fill="#af00ff"/><rect x="456" y="716" width="15" height="15" fill="#9f00ff"/><rect x="470" y="716" width="15" height="15" fill="#7000ff"/><rect x="484" y="716" width="15" height="15" fill="#3000ff"/><rect x="498" y="716" width="15" height="15" fill="#1000ff"/><rect x="512" y="716" width="15" height="15" fill="#0010ff"/><rect x="526" y="716" width="15" height="15" fill="#0020ff"/><rect x="540" y="716" width="15" height="15" fill="#0030ff"/><rect x="554" y="716" width="15" height="15" fill="#0050ff"/><rect x="568" y="716" width="15" height="15" fill="#0080ff"/><rect x="582" y="716" width="15" height="15" fill="#00afff"/><rect x="596" y="716" width="15" height="15" fill="#00dfff"/><rect x="610" y="716" width="29" height="15" fill="#00efff"/><rect x="638" y="716" width="15" height="15" fill="#00cfff"/><rect x="652" y="716" width="15" height="15" fill="#00bfff"/><rect x="666" y="716" width="15" height="15" fill="#00afff"/><rect x="680" y="716" width="29" height="15" fill="#009fff"/><rect x="708" y="716" width="29" height="15" fill="#00afff"/><rect x="736" y="716" width="43" height="15" fill="#00bfff"/><rect x="778" y="716" width="29" height="15" fill="#00cfff"/><rect x="806" y="716" width="85" height="15" fill="#00dfff"/><rect x="890" y="716" width="43" height="15" fill="#00cfff"/><rect x="92" y="730" width="15" height="15" fill="#bf00ff"/><rect x="106" y="730" width="15" height="15" fill="#af00ff"/><rect x="120" y="730" width="57" height="15" fill="#9f00ff"/><rect x="176" y="730" width="15" height="15" fill="#af00ff"/><rect x="190" y="730" width="29" height="15" fill="#bf00ff"/><rect x="218" y="730" width="71" height="15" fill="#cf00ff"/><rect x="288" y="730" width="155" height="15" fill="#bf00ff"/><rect x="442" y="730" width="15" height="15" fill="#af00ff"/><rect x="456" y="730" width="15" height="15" fill="#8f00ff"/><rect x="470" y="730" width="15" height="15" fill="#7000ff"/><rect x="484" y="730" width="15" height="15" fill="#3000ff"/><rect x="498" y="730" width="15" height="15" fill="#0000ff"/><rect x="512" y="730" width="15" height="15" fill="#0010ff"/><rect x="526" y="730" width="15" height="15" fill="#0020ff"/><rect x="540" y="730" width="15" height="15" fill="#0040ff"/><rect x="554" y="730" width="15" height="15" fill="#0060ff"/><rect x="568" y="730" width="15" height="15" fill="#009fff"/><rect x="582" y="730" width="15" height="15" fill="#00dfff"/><rect x="596" y="730" width="29" height="15" fill="#00ffff"/><rect x="624" y="730" width="15" height="15" fill="#00efff"/><rect x="638" y="730" width="15" height="15" fill="#00bfff"/><rect x="652" y="730" width="15" height="15" fill="#00afff"/><rect x="666" y="730" width="15" height="15" fill="#008fff"/><rect x="680" y="730" width="15" height="15" fill="#0080ff"/><rect x="694" y="730" width="43" height="15" fill="#0070ff"/><rect x="736" y="730" width="29" height="15" fill="#0080ff"/><rect x="764" y="730" width="29" height="15" fill="#008fff"/><rect x="792" y="730" width="15" height="15" fill="#009fff"/><rect x="806" y="730" width="99" height="15" fill="#00afff"/><rect x="904" y="730" width="29" height="15" fill="#00bfff"/><rect x="92" y="744" width="15" height="15" fill="#bf00ff"/><rect x="106" y="744" width="15" height="15" fill="#9f00ff"/><rect x="120" y="744" width="15" height="15" fill="#8f00ff"/><rect x="134" y="744" width="15" height="15" fill="#8000ff"/><rect x="148" y="744" width="29" height="15" fill="#8f00ff"/><rect x="176" y="744" width="15" height="15" fill="#9f00ff"/><rect x="190" y="744" width="29" height="15" fill="#bf00ff"/><rect x="218" y="744" width="85" height="15" fill="#cf00ff"/><rect x="302" y="744" width="141" height="15" fill="#bf00ff"/><rect x="442" y="744" width="15" height="15" fill="#af00ff"/><rect x="456" y="744" width="15" height="15" fill="#8f00ff"/><rect x="470" y="744" width="15" height="15" fill="#7000ff"/><rect x="484" y="744" width="15" height="15" fill="#3000ff"/><rect x="498" y="744" width="15" height="15" fill="#0000ff"/><rect x="512" y="744" width="15" height="15" fill="#0020ff"/><rect x="526" y="744" width="15" height="15" fill="#0030ff"/><rect x="540" y="744" width="15" height="15" fill="#0040ff"/><rect x="554" y="744" width="15" height="15" fill="#0080ff"/><rect x="568" y="744" width="15" height="15" fill="#00bfff"/><rect x="582" y="744" width="15" height="15" fill="#00ffff"/><rect x="596" y="744" width="15" height="15" fill="#00ffdf"/><rect x="610" y="744" width="15" height="15" fill="#00ffef"/><rect x="624" y="744" width="15" height="15" fill="#00efff"/><rect x="638" y="744" width="15" height="15" fill="#00afff"/><rect x="652" y="744" width="15" height="15" fill="#008fff"/><rect x="666" y="744" width="15" height="15" fill="#0060ff"/><rect x="680" y="744" width="15" height="15" fill="#0040ff"/><rect x="694" y="744" width="43" height="15" fill="#0030ff"/><rect x="736" y="744" width="15" height="15" fill="#0040ff"/><rect x="750" y="744" width="29" height="15" fill="#0050ff"/><rect x="778" y="744" width="15" height="15" fill="#0060ff"/><rect x="792" y="744" width="15" height="15" fill="#0070ff"/><rect x="806" y="744" width="85" height="15" fill="#0080ff"/><rect x="890" y="744" width="43" height="15" fill="#008fff"/><rect x="92" y="758" width="15" height="15" fill="#bf00ff"/><rect x="106" y="758" width="15" height="15" fill="#9f00ff"/><rect x="120" y="758" width="15" height="15" fill="#8f00ff"/><rect x="134" y="758" width="29" height="15" fill="#8000ff"/><rect x="162" y="758" width="15" height="15" fill="#8f00ff"/><rect x="176" y="758" width="15" height="15" fill="#9f00ff"/><rect x="190" y="758" width="15" height="15" fill="#af00ff"/><rect x="204" y="758" width="15" height="15" fill="#bf00ff"/><rect x="218" y="758" width="29" height="15" fill="#cf00ff"/><rect x="246" y="758" width="15" height="15" fill="#df00ff"/><rect x="260" y="758" width="43" height="15" fill="#cf00ff"/><rect x="302" y="758" width="127" height="15" fill="#bf00ff"/><rect x="428" y="758" width="29" height="15" fill="#af00ff"/><rect x="456" y="758" width="15" height="15" fill="#8f00ff"/><rect x="470" y="758" width="15" height="15" fill="#7000ff"/><rect x="484" y="758" width="15" height="15" fill="#3000ff"/><rect x="498" y="758" width="15" height="15" fill="#0000ff"/><rect x="512" y="758" width="15" height="15" fill="#0020ff"/><rect x="526" y="758" width="15" height="15" fill="#0040ff"/><rect x="540" y="758" width="15" height="15" fill="#0050ff"/><rect x="554" y="758" width="15" height="15" fill="#009fff"/><rect x="568" y="758" width="15" height="15" fill="#00dfff"/><rect x="582" y="758" width="15" height="15" fill="#00ffdf"/><rect x="596" y="758" width="15" height="15" fill="#00ffbf"/><rect x="610" y="758" width="15" height="15" fill="#00ffcf"/><rect x="624" y="758" width="15" height="15" fill="#00efff"/><rect x="638" y="758" width="15" height="15" fill="#009fff"/><rect x="652" y="758" width="15" height="15" fill="#0070ff"/><rect x="666" y="758" width="15" height="15" fill="#0040ff"/><rect x="680" y="758" width="15" height="15" fill="#0020ff"/><rect x="694" y="758" width="43" height="15" fill="#0010ff"/><rect x="736" y="758" width="43" height="15" fill="#0020ff"/><rect x="778" y="758" width="15" height="15" fill="#0030ff"/><rect x="792" y="758" width="29" height="15" fill="#0040ff"/><rect x="820" y="758" width="57" height="15" fill="#0050ff"/><rect x="876" y="758" width="29" height="15" fill="#0060ff"/><rect x="904" y="758" width="29" height="15" fill="#0050ff"/><rect x="92" y="772" width="15" height="15" fill="#af00ff"/><rect x="106" y="772" width="15" height="15" fill="#9f00ff"/><rect x="120" y="772" width="15" height="15" fill="#8f00ff"/><rect x="134" y="772" width="43" height="15" fill="#8000ff"/><rect x="176" y="772" width="15" height="15" fill="#9f00ff"/><rect x="190" y="772" width="15" height="15" fill="#af00ff"/><rect x="204" y="772" width="15" height="15" fill="#bf00ff"/><rect x="218" y="772" width="29" height="15" fill="#cf00ff"/><rect x="246" y="772" width="15" height="15" fill="#df00ff"/><rect x="260" y="772" width="57" height="15" fill="#cf00ff"/><rect x="316" y="772" width="113" height="15" fill="#bf00ff"/><rect x="428" y="772" width="15" height="15" fill="#af00ff"/><rect x="442" y="772" width="15" height="15" fill="#9f00ff"/><rect x="456" y="772" width="15" height="15" fill="#8f00ff"/><rect x="470" y="772" width="15" height="15" fill="#6000ff"/><rect x="484" y="772" width="15" height="15" fill="#3000ff"/><rect x="498" y="772" width="15" height="15" fill="#0000ff"/><rect x="512" y="772" width="15" height="15" fill="#0020ff"/><rect x="526" y="772" width="15" height="15" fill="#0040ff"/><rect x="540" y="772" width="15" height="15" fill="#0070ff"/><rect x="554" y="772" width="15" height="15" fill="#00afff"/><rect x="568" y="772" width="15" height="15" fill="#00ffff"/><rect x="582" y="772" width="15" height="15" fill="#00ffbf"/><rect x="596" y="772" width="15" height="15" fill="#00ffaf"/><rect x="610" y="772" width="15" height="15" fill="#00ffcf"/><rect x="624" y="772" width="15" height="15" fill="#00efff"/><rect x="638" y="772" width="15" height="15" fill="#009fff"/><rect x="652" y="772" width="15" height="15" fill="#0060ff"/><rect x="666" y="772" width="15" height="15" fill="#0020ff"/><rect x="680" y="772" width="15" height="15" fill="#0000ff"/><rect x="694" y="772" width="43" height="15" fill="#1000ff"/><rect x="736" y="772" width="57" height="15" fill="#0000ff"/><rect x="792" y="772" width="29" height="15" fill="#0010ff"/><rect x="820" y="772" width="71" height="15" fill="#0020ff"/><rect x="890" y="772" width="43" height="15" fill="#0030ff"/><rect x="92" y="786" width="29" height="15" fill="#9f00ff"/><rect x="120" y="786" width="15" height="15" fill="#8f00ff"/><rect x="134" y="786" width="29" height="15" fill="#8000ff"/><rect x="162" y="786" width="15" height="15" fill="#8f00ff"/><rect x="176" y="786" width="15" height="15" fill="#9f00ff"/><rect x="190" y="786" width="29" height="15" fill="#bf00ff"/><rect x="218" y="786" width="15" height="15" fill="#cf00ff"/><rect x="232" y="786" width="43" height="15" fill="#df00ff"/><rect x="274" y="786" width="57" height="15" fill="#cf00ff"/><rect x="330" y="786" width="85" height="15" fill="#bf00ff"/><rect x="414" y="786" width="29" height="15" fill="#af00ff"/><rect x="442" y="786" width="15" height="15" fill="#9f00ff"/><rect x="456" y="786" width="15" height="15" fill="#8000ff"/><rect x="470" y="786" width="15" height="15" fill="#6000ff"/><rect x="484" y="786" width="15" height="15" fill="#3000ff"/><rect x="498" y="786" width="15" height="15" fill="#0010ff"/><rect x="512" y="786" width="15" height="15" fill="#0030ff"/><rect x="526" y="786" width="15" height="15" fill="#0050ff"/><rect x="540" y="786" width="15" height="15" fill="#0080ff"/><rect x="554" y="786" width="15" height="15" fill="#00cfff"/><rect x="568" y="786" width="15" height="15" fill="#00ffdf"/><rect x="582" y="786" width="15" height="15" fill="#00ffaf"/><rect x="596" y="786" width="15" height="15" fill="#00ff9f"/><rect x="610" y="786" width="15" height="15" fill="#00ffdf"/><rect x="624" y="786" width="15" height="15" fill="#00dfff"/><rect x="638" y="786" width="15" height="15" fill="#008fff"/><rect x="652" y="786" width="15" height="15" fill="#0040ff"/><rect x="666" y="786" width="15" height="15" fill="#0010ff"/><rect x="680" y="786" width="15" height="15" fill="#1000ff"/><rect x="694" y="786" width="43" height="15" fill="#3000ff"/><rect x="736" y="786" width="15" height="15" fill="#2000ff"/><rect x="750" y="786" width="85" height="15" fill="#1000ff"/><rect x="834" y="786" width="29" height="15" fill="#0000ff"/><rect x="862" y="786" width="71" height="15" fill="#1000ff"/><rect x="92" y="800" width="29" height="15" fill="#9f00ff"/><rect x="120" y="800" width="43" height="15" fill="#8f00ff"/><rect x="162" y="800" width="15" height="15" fill="#9f00ff"/><rect x="176" y="800" width="29" height="15" fill="#bf00ff"/><rect x="204" y="800" width="29" height="15" fill="#cf00ff"/><rect x="232" y="800" width="43" height="15" fill="#df00ff"/><rect x="274" y="800" width="85" height="15" fill="#cf00ff"/><rect x="358" y="800" width="57" height="15" fill="#bf00ff"/><rect x="414" y="800" width="29" height="15" fill="#af00ff"/><rect x="442" y="800" width="15" height="15" fill="#9f00ff"/><rect x="456" y="800" width="15" height="15" fill="#8000ff"/><rect x="470" y="800" width="15" height="15" fill="#5000ff"/><rect x="484" y="800" width="15" height="15" fill="#2000ff"/><rect x="498" y="800" width="15" height="15" fill="#0010ff"/><rect x="512" y="800" width="15" height="15" fill="#0040ff"/><rect x="526" y="800" width="15" height="15" fill="#0070ff"/><rect x="540" y="800" width="15" height="15" fill="#009fff"/><rect x="554" y="800" width="15" height="15" fill="#00dfff"/><rect x="568" y="800" width="15" height="15" fill="#00ffcf"/><rect x="582" y="800" width="29" height="15" fill="#00ff9f"/><rect x="610" y="800" width="15" height="15" fill="#00ffdf"/><rect x="624" y="800" width="15" height="15" fill="#00cfff"/><rect x="638" y="800" width="15" height="15" fill="#0080ff"/><rect x="652" y="800" width="15" height="15" fill="#0030ff"/><rect x="666" y="800" width="15" height="15" fill="#1000ff"/><rect x="680" y="800" width="15" height="15" fill="#4000ff"/><rect x="694" y="800" width="15" height="15" fill="#6000ff"/><rect x="708" y="800" width="15" height="15" fill="#5000ff"/><rect x="722" y="800" width="15" height="15" fill="#4000ff"/><rect x="736" y="800" width="99" height="15" fill="#2000ff"/><rect x="834" y="800" width="99" height="15" fill="#3000ff"/><rect x="92" y="814" width="71" height="15" fill="#af00ff"/><rect x="162" y="814" width="71" height="15" fill="#cf00ff"/><rect x="232" y="814" width="57" height="15" fill="#df00ff"/><rect x="288" y="814" width="71" height="15" fill="#cf00ff"/><rect x="358" y="814" width="57" height="15" fill="#bf00ff"/><rect x="414" y="814" width="29" height="15" fill="#af00ff"/><rect x="442" y="814" width="15" height="15" fill="#9f00ff"/><rect x="456" y="814" width="15" height="15" fill="#8000ff"/><rect x="470" y="814" width="15" height="15" fill="#5000ff"/><rect x="484" y="814" width="15" height="15" fill="#2000ff"/><rect x="498" y="814" width="15" height="15" fill="#0010ff"/><rect x="512" y="814" width="15" height="15" fill="#0040ff"/><rect x="526" y="814" width="15" height="15" fill="#0080ff"/><rect x="540" y="814" width="15" height="15" fill="#00afff"/><rect x="554" y="814" width="15" height="15" fill="#00ffff"/><rect x="568" y="814" width="15" height="15" fill="#00ffaf"/><rect x="582" y="814" width="29" height="15" fill="#00ff9f"/><rect x="610" y="814" width="15" height="15" fill="#00ffef"/><rect x="624" y="814" width="15" height="15" fill="#00bfff"/><rect x="638" y="814" width="15" height="15" fill="#0060ff"/><rect x="652" y="814" width="15" height="15" fill="#0010ff"/><rect x="666" y="814" width="15" height="15" fill="#4000ff"/><rect x="680" y="814" width="15" height="15" fill="#7000ff"/><rect x="694" y="814" width="15" height="15" fill="#8f00ff"/><rect x="708" y="814" width="15" height="15" fill="#8000ff"/><rect x="722" y="814" width="15" height="15" fill="#6000ff"/><rect x="736" y="814" width="15" height="15" fill="#3000ff"/><rect x="750" y="814" width="43" height="15" fill="#2000ff"/><rect x="792" y="814" width="29" height="15" fill="#3000ff"/><rect x="820" y="814" width="57" height="15" fill="#4000ff"/><rect x="876" y="814" width="57" height="15" fill="#5000ff"/><rect x="92" y="828" width="15" height="15" fill="#df00ff"/><rect x="106" y="828" width="43" height="15" fill="#cf00ff"/><rect x="148" y="828" width="169" height="15" fill="#df00ff"/><rect x="316" y="828" width="57" height="15" fill="#cf00ff"/><rect x="372" y="828" width="43" height="15" fill="#bf00ff"/><rect x="414" y="828" width="15" height="15" fill="#af00ff"/><rect x="428" y="828" width="15" height="15" fill="#9f00ff"/><rect x="442" y="828" width="15" height="15" fill="#8f00ff"/><rect x="456" y="828" width="15" height="15" fill="#8000ff"/><rect x="470" y="828" width="15" height="15" fill="#5000ff"/><rect x="484" y="828" width="15" height="15" fill="#2000ff"/><rect x="498" y="828" width="15" height="15" fill="#0010ff"/><rect x="512" y="828" width="15" height="15" fill="#0050ff"/><rect x="526" y="828" width="15" height="15" fill="#0080ff"/><rect x="540" y="828" width="15" height="15" fill="#00cfff"/><rect x="554" y="828" width="15" height="15" fill="#00ffef"/><rect x="568" y="828" width="15" height="15" fill="#00ff9f"/><rect x="582" y="828" width="15" height="15" fill="#00ff8f"/><rect x="596" y="828" width="15" height="15" fill="#00ffaf"/><rect x="610" y="828" width="15" height="15" fill="#00ffff"/><rect x="624" y="828" width="15" height="15" fill="#009fff"/><rect x="638" y="828" width="15" height="15" fill="#0040ff"/><rect x="652" y="828" width="15" height="15" fill="#2000ff"/><rect x="666" y="828" width="15" height="15" fill="#7000ff"/><rect x="680" y="828" width="15" height="15" fill="#9f00ff"/><rect x="694" y="828" width="15" height="15" fill="#bf00ff"/><rect x="708" y="828" width="15" height="15" fill="#9f00ff"/><rect x="722" y="828" width="15" height="15" fill="#8000ff"/><rect x="736" y="828" width="15" height="15" fill="#4000ff"/><rect x="750" y="828" width="15" height="15" fill="#3000ff"/><rect x="764" y="828" width="43" height="15" fill="#2000ff"/><rect x="806" y="828" width="15" height="15" fill="#3000ff"/><rect x="820" y="828" width="29" height="15" fill="#4000ff"/><rect x="848" y="828" width="57" height="15" fill="#5000ff"/><rect x="904" y="828" width="29" height="15" fill="#6000ff"/><rect x="92" y="842" width="141" height="15" fill="#ef00ff"/><rect x="232" y="842" width="99" height="15" fill="#df00ff"/><rect x="330" y="842" width="43" height="15" fill="#cf00ff"/><rect x="372" y="842" width="43" height="15" fill="#bf00ff"/><rect x="414" y="842" width="15" height="15" fill="#af00ff"/><rect x="428" y="842" width="15" height="15" fill="#9f00ff"/><rect x="442" y="842" width="15" height="15" fill="#8f00ff"/><rect x="456" y="842" width="15" height="15" fill="#7000ff"/><rect x="470" y="842" width="15" height="15" fill="#5000ff"/><rect x="484" y="842" width="15" height="15" fill="#1000ff"/><rect x="498" y="842" width="15" height="15" fill="#0020ff"/><rect x="512" y="842" width="15" height="15" fill="#0050ff"/><rect x="526" y="842" width="15" height="15" fill="#008fff"/><rect x="540" y="842" width="15" height="15" fill="#00dfff"/><rect x="554" y="842" width="15" height="15" fill="#00ffcf"/><rect x="568" y="842" width="29" height="15" fill="#00ff8f"/><rect x="596" y="842" width="15" height="15" fill="#00ffbf"/><rect x="610" y="842" width="15" height="15" fill="#00dfff"/><rect x="624" y="842" width="15" height="15" fill="#0070ff"/><rect x="638" y="842" width="15" height="15" fill="#0000ff"/><rect x="652" y="842" width="15" height="15" fill="#6000ff"/><rect x="666" y="842" width="15" height="15" fill="#af00ff"/><rect x="680" y="842" width="29" height="15" fill="#cf00ff"/><rect x="708" y="842" width="15" height="15" fill="#af00ff"/><rect x="722" y="842" width="15" height="15" fill="#8000ff"/><rect x="736" y="842" width="15" height="15" fill="#5000ff"/><rect x="750" y="842" width="15" height="15" fill="#3000ff"/><rect x="764" y="842" width="57" height="15" fill="#2000ff"/><rect x="820" y="842" width="29" height="15" fill="#3000ff"/><rect x="848" y="842" width="29" height="15" fill="#4000ff"/><rect x="876" y="842" width="57" height="15" fill="#5000ff"/><rect x="92" y="856" width="43" height="15" fill="#ef00ff"/><rect x="134" y="856" width="57" height="15" fill="#ff00ff"/><rect x="190" y="856" width="71" height="15" fill="#ef00ff"/><rect x="260" y="856" width="57" height="15" fill="#df00ff"/><rect x="316" y="856" width="57" height="15" fill="#cf00ff"/><rect x="372" y="856" width="29" height="15" fill="#bf00ff"/><rect x="400" y="856" width="15" height="15" fill="#af00ff"/><rect x="414" y="856" width="15" height="15" fill="#9f00ff"/><rect x="428" y="856" width="15" height="15" fill="#8f00ff"/><rect x="442" y="856" width="15" height="15" fill="#8000ff"/><rect x="456" y="856" width="15" height="15" fill="#6000ff"/><rect x="470" y="856" width="15" height="15" fill="#4000ff"/><rect x="484" y="856" width="15" height="15" fill="#1000ff"/><rect x="498" y="856" width="15" height="15" fill="#0020ff"/><rect x="512" y="856" width="15" height="15" fill="#0060ff"/><rect x="526" y="856" width="15" height="15" fill="#009fff"/><rect x="540" y="856" width="15" height="15" fill="#00ffff"/><rect x="554" y="856" width="15" height="15" fill="#00ffbf"/><rect x="568" y="856" width="15" height="15" fill="#00ff8f"/><rect x="582" y="856" width="15" height="15" fill="#00ffaf"/><rect x="596" y="856" width="15" height="15" fill="#00ffef"/><rect x="610" y="856" width="15" height="15" fill="#00afff"/><rect x="624" y="856" width="15" height="15" fill="#0040ff"/><rect x="638" y="856" width="15" height="15" fill="#3000ff"/><rect x="652" y="856" width="15" height="15" fill="#8f00ff"/><rect x="666" y="856" width="15" height="15" fill="#bf00ff"/><rect x="680" y="856" width="15" height="15" fill="#cf00ff"/><rect x="694" y="856" width="15" height="15" fill="#bf00ff"/><rect x="708" y="856" width="15" height="15" fill="#8f00ff"/><rect x="722" y="856" width="15" height="15" fill="#6000ff"/><rect x="736" y="856" width="15" height="15" fill="#3000ff"/><rect x="750" y="856" width="85" height="15" fill="#1000ff"/><rect x="834" y="856" width="43" height="15" fill="#2000ff"/><rect x="876" y="856" width="29" height="15" fill="#3000ff"/><rect x="904" y="856" width="29" height="15" fill="#2000ff"/><rect x="92" y="870" width="15" height="15" fill="#df00ff"/><rect x="106" y="870" width="29" height="15" fill="#ef00ff"/><rect x="134" y="870" width="71" height="15" fill="#ff00ff"/><rect x="204" y="870" width="57" height="15" fill="#ef00ff"/><rect x="260" y="870" width="43" height="15" fill="#df00ff"/><rect x="302" y="870" width="57" height="15" fill="#cf00ff"/><rect x="358" y="870" width="29" height="15" fill="#bf00ff"/><rect x="386" y="870" width="15" height="15" fill="#af00ff"/><rect x="400" y="870" width="29" height="15" fill="#9f00ff"/><rect x="428" y="870" width="15" height="15" fill="#8f00ff"/><rect x="442" y="870" width="15" height="15" fill="#8000ff"/><rect x="456" y="870" width="15" height="15" fill="#6000ff"/><rect x="470" y="870" width="15" height="15" fill="#3000ff"/><rect x="484" y="870" width="15" height="15" fill="#1000ff"/><rect x="498" y="870" width="15" height="15" fill="#0030ff"/><rect x="512" y="870" width="15" height="15" fill="#0070ff"/><rect x="526" y="870" width="15" height="15" fill="#00bfff"/><rect x="540" y="870" width="15" height="15" fill="#00ffef"/><rect x="554" y="870" width="15" height="15" fill="#00ffaf"/><rect x="568" y="870" width="15" height="15" fill="#00ff8f"/><rect x="582" y="870" width="15" height="15" fill="#00ffbf"/><rect x="596" y="870" width="15" height="15" fill="#00efff"/><rect x="610" y="870" width="15" height="15" fill="#0080ff"/><rect x="624" y="870" width="15" height="15" fill="#0000ff"/><rect x="638" y="870" width="15" height="15" fill="#7000ff"/><rect x="652" y="870" width="15" height="15" fill="#af00ff"/><rect x="666" y="870" width="15" height="15" fill="#cf00ff"/><rect x="680" y="870" width="15" height="15" fill="#bf00ff"/><rect x="694" y="870" width="15" height="15" fill="#9f00ff"/><rect x="708" y="870" width="15" height="15" fill="#6000ff"/><rect x="722" y="870" width="15" height="15" fill="#3000ff"/><rect x="736" y="870" width="15" height="15" fill="#1000ff"/><rect x="750" y="870" width="15" height="15" fill="#0000ff"/><rect x="764" y="870" width="71" height="15" fill="#0010ff"/><rect x="834" y="870" width="99" height="15" fill="#0000ff"/><rect x="92" y="884" width="15" height="15" fill="#df00ff"/><rect x="106" y="884" width="29" height="15" fill="#ef00ff"/><rect x="134" y="884" width="85" height="15" fill="#ff00ff"/><rect x="218" y="884" width="43" height="15" fill="#ef00ff"/><rect x="260" y="884" width="29" height="15" fill="#df00ff"/><rect x="288" y="884" width="43" height="15" fill="#cf00ff"/><rect x="330" y="884" width="43" height="15" fill="#bf00ff"/><rect x="372" y="884" width="29" height="15" fill="#af00ff"/><rect x="400" y="884" width="15" height="15" fill="#9f00ff"/><rect x="414" y="884" width="15" height="15" fill="#8f00ff"/><rect x="428" y="884" width="15" height="15" fill="#8000ff"/><rect x="442" y="884" width="15" height="15" fill="#7000ff"/><rect x="456" y="884" width="15" height="15" fill="#5000ff"/><rect x="470" y="884" width="15" height="15" fill="#3000ff"/><rect x="484" y="884" width="15" height="15" fill="#0000ff"/><rect x="498" y="884" width="15" height="15" fill="#0040ff"/><rect x="512" y="884" width="15" height="15" fill="#008fff"/><rect x="526" y="884" width="15" height="15" fill="#00dfff"/><rect x="540" y="884" width="15" height="15" fill="#00ffdf"/><rect x="554" y="884" width="15" height="15" fill="#00ff9f"/><rect x="568" y="884" width="15" height="15" fill="#00ff8f"/><rect x="582" y="884" width="15" height="15" fill="#00ffcf"/><rect x="596" y="884" width="15" height="15" fill="#00bfff"/><rect x="610" y="884" width="15" height="15" fill="#0050ff"/><rect x="624" y="884" width="15" height="15" fill="#2000ff"/><rect x="638" y="884" width="15" height="15" fill="#8000ff"/><rect x="652" y="884" width="15" height="15" fill="#af00ff"/><rect x="666" y="884" width="15" height="15" fill="#bf00ff"/><rect x="680" y="884" width="15" height="15" fill="#8f00ff"/><rect x="694" y="884" width="15" height="15" fill="#6000ff"/><rect x="708" y="884" width="15" height="15" fill="#3000ff"/><rect x="722" y="884" width="15" height="15" fill="#0000ff"/><rect x="736" y="884" width="29" height="15" fill="#0020ff"/><rect x="764" y="884" width="85" height="15" fill="#0030ff"/><rect x="848" y="884" width="71" height="15" fill="#0020ff"/><rect x="918" y="884" width="15" height="15" fill="#0030ff"/><rect x="92" y="898" width="29" height="15" fill="#df00ff"/><rect x="120" y="898" width="29" height="15" fill="#ef00ff"/><rect x="148" y="898" width="71" height="15" fill="#ff00ff"/><rect x="218" y="898" width="43" height="15" fill="#ef00ff"/><rect x="260" y="898" width="15" height="15" fill="#df00ff"/><rect x="274" y="898" width="43" height="15" fill="#cf00ff"/><rect x="316" y="898" width="43" height="15" fill="#bf00ff"/><rect x="358" y="898" width="29" height="15" fill="#af00ff"/><rect x="386" y="898" width="15" height="15" fill="#9f00ff"/><rect x="400" y="898" width="29" height="15" fill="#8f00ff"/><rect x="428" y="898" width="15" height="15" fill="#8000ff"/><rect x="442" y="898" width="15" height="15" fill="#7000ff"/><rect x="456" y="898" width="15" height="15" fill="#5000ff"/><rect x="470" y="898" width="15" height="15" fill="#2000ff"/><rect x="484" y="898" width="15" height="15" fill="#0010ff"/><rect x="498" y="898" width="15" height="15" fill="#0050ff"/><rect x="512" y="898" width="15" height="15" fill="#009fff"/><rect x="526" y="898" width="15" height="15" fill="#00ffff"/><rect x="540" y="898" width="15" height="15" fill="#00ffbf"/><rect x="554" y="898" width="29" height="15" fill="#00ff9f"/><rect x="582" y="898" width="15" height="15" fill="#00ffff"/><rect x="596" y="898" width="15" height="15" fill="#008fff"/><rect x="610" y="898" width="15" height="15" fill="#0020ff"/><rect x="624" y="898" width="15" height="15" fill="#4000ff"/><rect x="638" y="898" width="15" height="15" fill="#8000ff"/><rect x="652" y="898" width="29" height="15" fill="#9f00ff"/><rect x="680" y="898" width="15" height="15" fill="#6000ff"/><rect x="694" y="898" width="15" height="15" fill="#2000ff"/><rect x="708" y="898" width="15" height="15" fill="#0010ff"/><rect x="722" y="898" width="29" height="15" fill="#0040ff"/><rect x="750" y="898" width="113" height="15" fill="#0050ff"/><rect x="862" y="898" width="71" height="15" fill="#0040ff"/><rect x="92" y="912" width="29" height="15" fill="#cf00ff"/><rect x="120" y="912" width="15" height="15" fill="#df00ff"/><rect x="134" y="912" width="43" height="15" fill="#ef00ff"/><rect x="176" y="912" width="29" height="15" fill="#ff00ff"/><rect x="204" y="912" width="43" height="15" fill="#ef00ff"/><rect x="246" y="912" width="29" height="15" fill="#df00ff"/><rect x="274" y="912" width="29" height="15" fill="#cf00ff"/><rect x="302" y="912" width="43" height="15" fill="#bf00ff"/><rect x="344" y="912" width="29" height="15" fill="#af00ff"/><rect x="372" y="912" width="15" height="15" fill="#9f00ff"/><rect x="386" y="912" width="29" height="15" fill="#8f00ff"/><rect x="414" y="912" width="15" height="15" fill="#8000ff"/><rect x="428" y="912" width="15" height="15" fill="#7000ff"/><rect x="442" y="912" width="15" height="15" fill="#6000ff"/><rect x="456" y="912" width="15" height="15" fill="#4000ff"/><rect x="470" y="912" width="15" height="15" fill="#1000ff"/><rect x="484" y="912" width="15" height="15" fill="#0030ff"/><rect x="498" y="912" width="15" height="15" fill="#0070ff"/><rect x="512" y="912" width="15" height="15" fill="#00cfff"/><rect x="526" y="912" width="15" height="15" fill="#00ffef"/><rect x="540" y="912" width="29" height="15" fill="#00ffaf"/><rect x="568" y="912" width="15" height="15" fill="#00ffbf"/><rect x="582" y="912" width="15" height="15" fill="#00dfff"/><rect x="596" y="912" width="15" height="15" fill="#0070ff"/><rect x="610" y="912" width="15" height="15" fill="#0010ff"/><rect x="624" y="912" width="15" height="15" fill="#4000ff"/><rect x="638" y="912" width="15" height="15" fill="#7000ff"/><rect x="652" y="912" width="15" height="15" fill="#8000ff"/><rect x="666" y="912" width="15" height="15" fill="#5000ff"/><rect x="680" y="912" width="15" height="15" fill="#2000ff"/><rect x="694" y="912" width="15" height="15" fill="#0020ff"/><rect x="708" y="912" width="15" height="15" fill="#0050ff"/><rect x="722" y="912" width="15" height="15" fill="#0060ff"/><rect x="736" y="912" width="141" height="15" fill="#0070ff"/><rect x="876" y="912" width="43" height="15" fill="#0060ff"/><rect x="918" y="912" width="15" height="15" fill="#0070ff"/><rect x="92" y="926" width="15" height="15" fill="#af00ff"/><rect x="106" y="926" width="15" height="15" fill="#bf00ff"/><rect x="120" y="926" width="15" height="15" fill="#cf00ff"/><rect x="134" y="926" width="15" height="15" fill="#df00ff"/><rect x="148" y="926" width="99" height="15" fill="#ef00ff"/><rect x="246" y="926" width="29" height="15" fill="#df00ff"/><rect x="274" y="926" width="29" height="15" fill="#cf00ff"/><rect x="302" y="926" width="29" height="15" fill="#bf00ff"/><rect x="330" y="926" width="29" height="15" fill="#af00ff"/><rect x="358" y="926" width="29" height="15" fill="#9f00ff"/><rect x="386" y="926" width="15" height="15" fill="#8f00ff"/><rect x="400" y="926" width="15" height="15" fill="#8000ff"/><rect x="414" y="926" width="29" height="15" fill="#7000ff"/><rect x="442" y="926" width="15" height="15" fill="#5000ff"/><rect x="456" y="926" width="15" height="15" fill="#3000ff"/><rect x="470" y="926" width="15" height="15" fill="#0000ff"/><rect x="484" y="926" width="15" height="15" fill="#0050ff"/><rect x="498" y="926" width="15" height="15" fill="#008fff"/><rect x="512" y="926" width="15" height="15" fill="#00efff"/><rect x="526" y="926" width="15" height="15" fill="#00ffcf"/><rect x="540" y="926" width="15" height="15" fill="#00ff9f"/><rect x="554" y="926" width="15" height="15" fill="#00ffaf"/><rect x="568" y="926" width="15" height="15" fill="#00ffdf"/><rect x="582" y="926" width="15" height="15" fill="#00afff"/><rect x="596" y="926" width="15" height="15" fill="#0040ff"/><rect x="610" y="926" width="15" height="15" fill="#1000ff"/><rect x="624" y="926" width="15" height="15" fill="#5000ff"/><rect x="638" y="926" width="15" height="15" fill="#6000ff"/><rect x="652" y="926" width="15" height="15" fill="#5000ff"/><rect x="666" y="926" width="15" height="15" fill="#2000ff"/><rect x="680" y="926" width="15" height="15" fill="#0020ff"/><rect x="694" y="926" width="15" height="15" fill="#0050ff"/><rect x="708" y="926" width="29" height="15" fill="#0070ff"/><rect x="736" y="926" width="43" height="15" fill="#0080ff"/><rect x="778" y="926" width="71" height="15" fill="#008fff"/><rect x="848" y="926" width="57" height="15" fill="#0080ff"/><rect x="904" y="926" width="29" height="15" fill="#0070ff"/><rect x="92" y="940" width="15" height="15" fill="#9f00ff"/><rect x="106" y="940" width="15" height="15" fill="#af00ff"/><rect x="120" y="940" width="15" height="15" fill="#cf00ff"/><rect x="134" y="940" width="43" height="15" fill="#df00ff"/><rect x="176" y="940" width="57" height="15" fill="#ef00ff"/><rect x="232" y="940" width="29" height="15" fill="#df00ff"/><rect x="260" y="940" width="29" height="15" fill="#cf00ff"/><rect x="288" y="940" width="29" height="15" fill="#bf00ff"/><rect x="316" y="940" width="29" height="15" fill="#af00ff"/><rect x="344" y="940" width="29" height="15" fill="#9f00ff"/><rect x="372" y="940" width="15" height="15" fill="#8f00ff"/><rect x="386" y="940" width="29" height="15" fill="#8000ff"/><rect x="414" y="940" width="15" height="15" fill="#7000ff"/><rect x="428" y="940" width="15" height="15" fill="#6000ff"/><rect x="442" y="940" width="15" height="15" fill="#5000ff"/><rect x="456" y="940" width="15" height="15" fill="#2000ff"/><rect x="470" y="940" width="15" height="15" fill="#0020ff"/><rect x="484" y="940" width="15" height="15" fill="#0060ff"/><rect x="498" y="940" width="15" height="15" fill="#00afff"/><rect x="512" y="940" width="15" height="15" fill="#00ffef"/><rect x="526" y="940" width="15" height="15" fill="#00ffbf"/><rect x="540" y="940" width="15" height="15" fill="#00ff9f"/><rect x="554" y="940" width="15" height="15" fill="#00ffaf"/><rect x="568" y="940" width="15" height="15" fill="#00ffff"/><rect x="582" y="940" width="15" height="15" fill="#0080ff"/><rect x="596" y="940" width="15" height="15" fill="#0020ff"/><rect x="610" y="940" width="15" height="15" fill="#3000ff"/><rect x="624" y="940" width="29" height="15" fill="#5000ff"/><rect x="652" y="940" width="15" height="15" fill="#3000ff"/><rect x="666" y="940" width="15" height="15" fill="#0010ff"/><rect x="680" y="940" width="15" height="15" fill="#0030ff"/><rect x="694" y="940" width="15" height="15" fill="#0060ff"/><rect x="708" y="940" width="15" height="15" fill="#0070ff"/><rect x="722" y="940" width="29" height="15" fill="#0080ff"/><rect x="750" y="940" width="43" height="15" fill="#008fff"/><rect x="792" y="940" width="71" height="15" fill="#009fff"/><rect x="862" y="940" width="71" height="15" fill="#008fff"/><rect x="92" y="954" width="15" height="15" fill="#9f00ff"/><rect x="106" y="954" width="15" height="15" fill="#af00ff"/><rect x="120" y="954" width="15" height="15" fill="#cf00ff"/><rect x="134" y="954" width="43" height="15" fill="#df00ff"/><rect x="176" y="954" width="57" height="15" fill="#ef00ff"/><rect x="232" y="954" width="43" height="15" fill="#df00ff"/><rect x="274" y="954" width="57" height="15" fill="#bf00ff"/><rect x="330" y="954" width="43" height="15" fill="#9f00ff"/><rect x="372" y="954" width="43" height="15" fill="#8000ff"/><rect x="414" y="954" width="15" height="15" fill="#7000ff"/><rect x="428" y="954" width="15" height="15" fill="#5000ff"/><rect x="442" y="954" width="15" height="15" fill="#4000ff"/><rect x="456" y="954" width="15" height="15" fill="#0000ff"/><rect x="470" y="954" width="15" height="15" fill="#0020ff"/><rect x="484" y="954" width="15" height="15" fill="#0080ff"/><rect x="498" y="954" width="15" height="15" fill="#00bfff"/><rect x="512" y="954" width="15" height="15" fill="#00ffdf"/><rect x="526" y="954" width="15" height="15" fill="#00ffaf"/><rect x="540" y="954" width="15" height="15" fill="#00ff8f"/><rect x="554" y="954" width="15" height="15" fill="#00ff9f"/><rect x="568" y="954" width="15" height="15" fill="#00efff"/><rect x="582" y="954" width="15" height="15" fill="#0050ff"/><rect x="596" y="954" width="15" height="15" fill="#0010ff"/><rect x="610" y="954" width="15" height="15" fill="#4000ff"/><rect x="624" y="954" width="15" height="15" fill="#6000ff"/><rect x="638" y="954" width="15" height="15" fill="#4000ff"/><rect x="652" y="954" width="15" height="15" fill="#3000ff"/><rect x="666" y="954" width="15" height="15" fill="#0010ff"/><rect x="680" y="954" width="15" height="15" fill="#0030ff"/><rect x="694" y="954" width="15" height="15" fill="#0060ff"/><rect x="708" y="954" width="15" height="15" fill="#0070ff"/><rect x="722" y="954" width="15" height="15" fill="#0080ff"/><rect x="736" y="954" width="43" height="15" fill="#008fff"/><rect x="778" y="954" width="99" height="15" fill="#009fff"/><rect x="876" y="954" width="57" height="15" fill="#008fff"/><rect x="92" y="968" width="15" height="15" fill="#9f00ff"/><rect x="106" y="968" width="15" height="15" fill="#af00ff"/><rect x="120" y="968" width="15" height="15" fill="#cf00ff"/><rect x="134" y="968" width="43" height="15" fill="#df00ff"/><rect x="176" y="968" width="57" height="15" fill="#ef00ff"/><rect x="232" y="968" width="43" height="15" fill="#df00ff"/><rect x="274" y="968" width="57" height="15" fill="#bf00ff"/><rect x="330" y="968" width="43" height="15" fill="#9f00ff"/><rect x="372" y="968" width="43" height="15" fill="#8000ff"/><rect x="414" y="968" width="15" height="15" fill="#7000ff"/><rect x="428" y="968" width="15" height="15" fill="#5000ff"/><rect x="442" y="968" width="15" height="15" fill="#4000ff"/><rect x="456" y="968" width="15" height="15" fill="#0000ff"/><rect x="470" y="968" width="15" height="15" fill="#0020ff"/><rect x="484" y="968" width="15" height="15" fill="#0080ff"/><rect x="498" y="968" width="15" height="15" fill="#00bfff"/><rect x="512" y="968" width="15" height="15" fill="#00ffdf"/><rect x="526" y="968" width="15" height="15" fill="#00ffaf"/><rect x="540" y="968" width="29" height="15" fill="#00ff8f"/><rect x="568" y="968" width="15" height="15" fill="#00efff"/><rect x="582" y="968" width="15" height="15" fill="#0040ff"/><rect x="596" y="968" width="15" height="15" fill="#0010ff"/><rect x="610" y="968" width="15" height="15" fill="#5000ff"/><rect x="624" y="968" width="15" height="15" fill="#6000ff"/><rect x="638" y="968" width="15" height="15" fill="#4000ff"/><rect x="652" y="968" width="15" height="15" fill="#3000ff"/><rect x="666" y="968" width="15" height="15" fill="#0010ff"/><rect x="680" y="968" width="15" height="15" fill="#0030ff"/><rect x="694" y="968" width="15" height="15" fill="#0060ff"/><rect x="708" y="968" width="15" height="15" fill="#0070ff"/><rect x="722" y="968" width="57" height="15" fill="#008fff"/><rect x="778" y="968" width="99" height="15" fill="#009fff"/><rect x="876" y="968" width="57" height="15" fill="#008fff"/></g><g filter="url(#bg)" fill="#808080"><ellipse cx="197" cy="470" rx="24" ry="38"/><ellipse cx="175" cy="500" rx="28" ry="24"/><ellipse cx="152" cy="506" rx="20" ry="9"/><ellipse cx="140" cy="628" rx="50" ry="34"/><ellipse cx="135" cy="680" rx="45" ry="45"/><ellipse cx="180" cy="578" rx="30" ry="24"/><ellipse cx="107" cy="583" rx="11" ry="26"/><ellipse cx="150" cy="735" rx="25" ry="12"/><ellipse cx="119" cy="769" rx="13" ry="13"/><ellipse cx="410" cy="690" rx="16" ry="42"/><ellipse cx="272" cy="356" rx="14" ry="8"/><ellipse cx="455" cy="264" rx="9" ry="8"/><ellipse cx="525" cy="263" rx="26" ry="6"/><ellipse cx="625" cy="268" rx="8" ry="8"/><ellipse cx="822" cy="334" rx="11" ry="9"/><ellipse cx="808" cy="295" rx="14" ry="6"/><ellipse cx="848" cy="160" rx="9" ry="12"/></g><g filter="url(#bg2)" fill="#e000ff"><ellipse cx="140" cy="585" rx="9" ry="20"/><ellipse cx="146" cy="572" rx="8" ry="10"/><ellipse cx="130" cy="540" rx="12" ry="8"/></g><g filter="url(#bg2)" fill="#808080"><path d="M103 243L192 243L192 283L166 300L150 306L138 300L118 285L103 285Z"/><path d="M360 200L425 200L462 238L468 258L456 266L442 250L426 238L410 236L395 222L360 218Z"/><path d="M548 216L558 216L560 250L572 252L574 268L540 268L540 256L549 250Z"/><path d="M662 236L702 216L704 232L692 243L682 252L670 252Z"/><path d="M696 220L722 230L737 238L762 246L792 256L794 294L776 292L766 274L744 266L722 262L700 250Z"/><path d="M817 269L828 269L828 290L823 301L815 299L815 285Z"/><path d="M575 262L578 262L578 280L575 280Z"/><path d="M318 247L340 244L360 242L380 241.5L393 242" fill="none" stroke="#808080" stroke-width="8"/><path d="M150 312L166 311L188 304L207 296L226 289L245 281L258 274L268 269" fill="none" stroke="#808080" stroke-width="8"/><path d="M104 342L114 335L122 326L131 319L140 312" fill="none" stroke="#808080" stroke-width="8"/></g><path d="M551.3 220L553.6 228L555.2 234.5L553.2 242.6L553.2 252.5L554 258L557 263" fill="none" stroke="#808080" stroke-width="4"/>
<path d="M157.7 310.5Q158.2 310.4 159.7 310.0M214.9 310.5Q217.0 309.7 219.9 308.6M272.1 310.5Q274.7 309.6 278.2 308.7M329.3 310.5Q330.9 310.4 333.4 310.3M386.5 310.5Q387.9 310.4 390.2 310.6M443.7 310.5Q444.7 311.5 446.6 312.8M500.9 310.5Q501.0 309.8 501.9 309.7M100.5 390.5Q103.3 387.7 106.7 384.3M157.7 390.5Q160.0 389.6 163.1 388.3M214.9 390.5Q216.8 390.3 219.7 390.1M272.1 390.5Q272.5 390.4 273.9 390.3M329.3 390.5Q329.0 390.5 329.7 390.7M386.5 390.5Q387.3 391.6 389.0 393.2M443.7 390.5Q443.8 391.8 444.7 393.7M500.9 390.5Q500.6 391.0 500.7 392.5M558.1 390.5Q557.6 390.4 557.1 391.3M615.3 390.5Q614.9 390.3 613.9 391.0M672.5 390.5Q672.1 390.9 671.0 391.9M729.7 390.5Q728.8 390.4 727.0 390.9M786.9 390.5Q785.7 390.2 783.5 390.0M844.1 390.5Q842.0 390.2 838.8 390.0M901.3 390.5Q900.4 390.2 898.7 389.5M100.5 470.5Q103.6 470.3 107.7 470.0M157.7 470.5Q158.1 470.5 159.5 470.5M329.3 470.5Q329.3 470.4 330.3 470.5M386.5 470.5Q386.8 470.5 388.1 470.8M443.7 470.5Q445.4 472.3 447.9 474.7M500.9 470.5Q501.4 474.4 502.3 479.2M558.1 470.5Q557.1 474.4 556.1 479.3M615.3 470.5Q613.9 473.2 611.7 476.5M672.5 470.5Q669.5 472.8 665.6 475.6M729.7 470.5Q727.3 471.5 723.9 472.5M786.9 470.5Q786.0 471.2 784.0 471.7M844.1 470.5Q842.4 470.4 839.7 470.5M901.3 470.5Q896.9 470.0 891.5 469.5M214.9 550.5Q216.3 550.3 218.8 550.0M329.3 550.5Q329.1 549.8 329.8 549.7M443.7 550.5Q443.9 550.4 444.8 550.9M500.9 550.5Q502.6 557.3 504.7 565.1M558.1 550.5Q558.4 555.1 558.9 560.7M615.3 550.5Q613.8 552.1 612.0 554.7M672.5 550.5Q671.0 550.7 668.7 551.2M729.7 550.5Q726.3 549.8 721.9 549.0M786.9 550.5Q780.9 548.2 773.8 545.7M844.1 550.5Q836.1 548.9 827.2 547.2M901.3 550.5Q894.4 549.9 886.4 549.2M500.9 630.5Q501.4 637.0 502.2 644.6M558.1 630.5Q557.4 636.4 556.6 643.3M615.3 630.5Q610.5 642.5 607.6 649.0M672.5 630.5Q662.0 642.0 656.5 647.5M729.7 630.5Q709.6 641.0 701.7 646.0M786.9 630.5Q761.9 640.8 751.8 642.8M844.1 630.5Q817.5 636.8 807.3 637.5M901.3 630.5Q878.8 635.3 869.5 635.8M443.7 710.5Q443.5 710.9 443.2 712.3M500.9 710.5Q500.7 716.9 500.4 724.3M558.1 710.5Q555.6 718.9 552.8 728.3M615.3 710.5Q604.1 741.7 600.2 752.7M672.5 710.5Q658.4 727.1 652.4 734.0M729.7 710.5Q710.8 714.3 702.6 716.8M786.9 710.5Q760.5 713.0 750.4 713.0M844.1 710.5Q815.8 709.5 805.3 709.5M901.3 710.5Q873.9 711.5 863.5 711.5M386.5 790.5Q386.5 790.4 386.5 791.3M443.7 790.5Q443.1 791.9 442.4 794.4M500.9 790.5Q499.9 797.4 498.9 805.3M558.1 790.5Q553.0 814.7 550.8 824.2M615.3 790.5Q605.4 824.3 600.8 835.4M672.5 790.5Q664.4 801.1 659.4 806.3M729.7 790.5Q722.7 793.1 715.0 795.1M786.9 790.5Q780.3 786.9 772.9 782.6M844.1 790.5Q837.0 786.0 829.1 780.9M901.3 790.5Q889.2 785.3 882.2 783.9M329.3 870.5Q328.8 870.1 328.3 870.8M386.5 870.5Q386.3 871.4 386.0 873.3M443.7 870.5Q442.4 873.9 440.8 878.2M500.9 870.5Q498.1 877.5 494.8 885.4M558.1 870.5Q546.9 901.3 539.8 910.3M615.3 870.5Q604.9 893.8 600.5 902.7M729.7 870.5Q732.3 864.5 735.3 857.6M786.9 870.5Q791.0 862.5 795.6 853.7M844.1 870.5Q847.4 862.8 851.2 854.1M672.5 950.5Q684.6 939.5 691.0 934.8M729.7 950.5Q746.5 935.9 754.1 930.6M786.9 950.5Q801.9 935.6 809.1 930.3M844.1 950.5Q858.1 938.6 865.0 933.9" fill="none" stroke="#000" stroke-width="1"/><path d="M173.3 305.8L160.3 315.2L157.3 305.3ZM232.9 302.8L221.1 313.7L216.9 304.3ZM292.4 307.7L277.6 313.9L276.9 303.6ZM347.6 311.0L332.2 315.3L332.7 305.1ZM403.8 314.8L387.8 315.3L390.8 305.4ZM459.6 318.6L443.6 317.1L447.8 307.7ZM513.7 317.6L498.2 313.4L504.0 304.8ZM570.5 311.5L554.7 314.5L556.2 304.3ZM614.9 320.1L613.9 304.1L623.8 306.8ZM665.7 319.5L670.7 304.3L679.0 310.5ZM720.0 314.4L730.2 302.0L735.6 310.7ZM784.0 301.0L789.2 316.2L778.9 316.2ZM834.1 303.0L849.3 308.0L843.1 316.3ZM117.3 374.8L109.5 388.8L102.6 381.1ZM176.3 383.0L164.1 393.5L160.3 383.9ZM233.9 389.1L219.1 395.3L218.4 385.0ZM288.1 390.5L272.8 395.4L273.0 385.1ZM343.8 391.9L328.2 395.7L329.1 385.4ZM401.2 400.5L385.5 397.1L390.8 388.3ZM455.4 403.0L440.5 396.9L447.3 389.1ZM507.4 405.0L495.7 394.0L504.8 389.2ZM557.1 405.5L552.0 390.3L562.2 390.3ZM607.5 403.7L609.8 387.8L619.0 392.5ZM661.5 402.5L667.8 387.8L675.5 394.7ZM714.7 398.0L725.3 385.9L730.4 394.9ZM769.4 391.2L784.1 384.7L785.0 395.0ZM824.6 390.0L839.8 384.9L839.8 395.1ZM885.8 383.5L901.8 385.3L897.4 394.6ZM121.9 469.5L106.9 475.2L106.5 464.9ZM173.7 470.5L158.5 475.6L158.5 465.4ZM223.9 471.9L208.1 474.9L209.6 464.7ZM285.5 472.5L269.7 475.1L271.4 464.9ZM343.8 474.8L327.8 475.1L330.9 465.3ZM401.7 475.0L385.7 475.5L388.7 465.6ZM459.4 483.0L444.1 478.2L450.1 469.9ZM507.4 492.5L497.1 480.2L506.8 476.5ZM555.1 493.5L551.0 478.0L561.3 478.7ZM601.3 486.2L608.9 472.1L615.9 479.6ZM653.8 483.5L663.5 470.7L669.3 479.3ZM709.7 473.5L724.5 467.3L725.2 477.6ZM769.9 470.5L785.5 466.7L784.6 477.0ZM825.6 472.5L839.9 465.3L841.4 475.5ZM877.3 469.5L892.5 464.4L892.5 474.6ZM108.5 559.5L95.6 550.0L104.0 544.1ZM171.7 550.5L156.5 555.6L156.5 545.4ZM232.9 548.5L218.3 555.2L217.2 545.0ZM285.1 550.5L269.9 555.6L269.9 545.4ZM342.0 557.0L326.3 553.6L331.6 544.8ZM398.5 558.0L382.9 554.0L388.6 545.4ZM455.7 560.0L440.7 554.2L447.4 546.3ZM509.4 578.5L499.5 565.9L509.2 562.5ZM562.1 574.5L553.7 560.8L563.7 558.5ZM608.8 568.5L607.2 552.5L617.2 554.8ZM655.5 556.5L667.7 546.0L671.5 555.6ZM707.7 548.0L723.2 543.9L722.5 554.2ZM759.9 543.0L775.8 540.8L773.8 551.0ZM813.1 545.5L828.8 542.2L827.6 552.5ZM872.3 548.0L887.9 544.2L887.0 554.5ZM227.4 628.0L212.9 635.0L211.7 624.7ZM284.6 633.5L268.6 634.3L271.4 624.4ZM337.3 640.0L323.4 631.9L331.2 625.1ZM394.5 638.5L380.1 631.4L387.4 624.1ZM451.7 642.0L438.7 632.6L447.1 626.6ZM504.9 658.5L496.9 644.6L507.1 642.6ZM556.1 657.5L551.5 642.1L561.8 642.5ZM601.8 662.0L603.3 646.0L612.7 650.2ZM646.5 657.5L653.6 643.1L660.9 650.4ZM689.7 653.5L699.9 641.1L705.3 649.8ZM737.9 645.5L751.8 637.5L753.8 647.7ZM793.1 638.5L807.9 632.3L808.6 642.6ZM855.3 636.5L870.2 630.6L870.7 640.8ZM167.7 710.5L152.5 715.6L152.5 705.4ZM225.4 703.5L214.4 715.2L209.6 706.1ZM279.1 722.0L266.6 711.9L275.3 706.4ZM333.3 722.5L322.8 710.3L332.4 706.5ZM390.5 723.0L379.6 711.2L389.0 707.0ZM442.7 726.5L438.1 711.1L448.4 711.5ZM499.9 738.5L495.3 723.1L505.6 723.5ZM548.7 741.9L548.1 725.9L558.0 728.8ZM595.3 766.0L595.7 750.0L605.3 753.5ZM643.1 744.7L649.2 729.8L657.0 736.6ZM689.0 721.0L702.0 711.6L705.0 721.5ZM736.2 713.0L751.4 707.9L751.4 718.1ZM791.1 709.5L806.3 704.4L806.3 714.6ZM849.3 711.5L864.5 706.4L864.5 716.6ZM111.0 792.8L95.1 795.2L96.9 785.1ZM171.4 792.2L156.0 796.8L156.4 786.5ZM223.9 793.0L207.9 792.6L211.4 783.0ZM274.1 802.5L266.8 788.2L276.9 786.7ZM329.3 804.5L324.2 789.3L334.4 789.3ZM386.5 805.5L381.4 790.3L391.6 790.3ZM441.2 808.5L437.4 792.9L447.7 793.8ZM498.9 819.5L493.8 804.3L504.1 804.3ZM547.6 838.0L546.0 822.0L556.0 824.3ZM595.3 848.5L596.4 832.5L605.9 836.5ZM649.5 816.5L656.4 802.0L663.8 809.1ZM703.7 786.5L718.9 791.7L712.6 799.8ZM761.3 774.5L776.7 779.0L770.8 787.4ZM818.1 772.0L833.2 777.6L826.7 785.6ZM868.3 780.9L884.2 779.0L882.1 789.1ZM160.9 877.2L147.8 867.9L156.1 861.9ZM220.4 877.5L206.7 869.2L214.6 862.5ZM271.1 882.5L266.2 867.2L276.5 867.4ZM328.3 885.0L323.2 869.8L333.4 869.8ZM385.5 887.5L380.9 872.1L391.2 872.5ZM435.7 891.5L436.3 875.5L446.0 879.2ZM489.4 898.5L490.5 882.5L500.0 886.4ZM531.1 921.5L536.4 906.4L544.5 912.7ZM594.3 915.5L596.3 899.6L605.6 904.1ZM664.5 882.2L667.4 866.4L676.4 871.4ZM742.7 845.5L739.2 861.2L730.4 855.8ZM802.9 841.5L799.5 857.2L790.7 851.9ZM857.7 841.5L855.3 857.4L846.2 852.6ZM702.5 926.5L693.2 939.6L687.2 931.3ZM765.7 922.5L756.2 935.4L750.3 927.0ZM820.6 922.0L811.3 935.1L805.3 926.8ZM876.8 926.0L867.1 938.8L861.3 930.2ZM847.3 217.3L847.3 232.7L834 232.7L834 226Z" fill="#000"/>
<path d="M98.0 148.0L842.0 148.0L842.0 152.0L843.0 160.0L845.0 170.0L843.0 180.0L838.0 189.0L841.0 200.0L841.0 216.0L840.6 221.5L839.8 231.4L839.3 247.7L837.3 259.2L834.0 269.0L829.1 278.8L825.0 288.6L822.6 296.0L817.7 295.2L816.8 287.8L820.9 283.7L825.0 277.2L824.2 272.0L820.1 273.1L818.5 280.5L814.4 282.1L810.3 276.4L813.6 277.6L816.8 281.3L812.8 285.4L804.6 289.5L796.4 292.7L790.7 296.0L788.2 290.3L788.2 283.7L787.4 277.2L788.2 273.1L791.5 269.0L792.3 258.9L798.0 258.4L792.3 257.6L786.6 258.4L779.2 259.2L775.1 254.3L770.2 253.5L763.6 251.0L757.1 246.9L750.6 245.3L744.0 243.6L737.5 241.2L734.2 238.7L729.3 241.2L726.8 246.0L726.0 252.6L722.7 254.3L720.3 252.6L721.9 245.3L717.8 243.6L719.5 241.2L720.3 236.3L717.0 232.2L711.3 229.7L706.4 226.5L702.3 228.0L699.0 224.8L696.5 225.6L695.9 226.3L693.5 232.8L688.5 237.7L683.6 236.9L681.2 241.8L677.1 239.4L675.5 244.3L672.2 240.2L665.6 241.8L665.6 245.9L668.9 247.5L671.4 252.5L674.7 254.1L674.7 262.3L677.1 265.5L680.4 261.5L682.8 262.3L679.6 266.4L675.5 272.1L668.9 277.0L664.8 276.2L664.0 270.5L659.9 269.6L655.8 266.4L650.9 265.5L646.8 266.4L646.0 260.6L641.9 259.0L644.4 262.3L645.7 268.8L646.0 277.0L642.7 283.6L636.2 290.1L629.7 295.0L621.5 295.0L613.6 294.2L613.3 300.7L611.7 303.2L609.2 301.6L610.0 296.7L609.2 286.8L610.0 278.6L610.4 269.5L609.4 270.5L607.6 281.9L605.1 285.2L601.8 281.9L600.2 277.0L595.3 275.4L585.5 276.2L578.1 275.4L576.7 264.7L575.6 264.7L575.6 270.5L574.0 273.7L569.9 270.5L569.1 267.2L565.0 262.3L567.5 255.7L563.4 261.5L557.6 264.7L551.1 267.2L550.3 262.3L556.0 257.4L555.2 252.5L554.4 242.6L556.8 234.5L555.2 227.0L552.7 220.5L550.3 221.4L551.9 227.9L553.6 234.5L551.9 242.6L551.1 252.5L550.3 251.6L542.9 255.7L536.4 261.5L528.2 262.3L520.0 260.6L511.4 265.2L507.6 271.0L500.0 275.7L490.5 276.0L479.0 274.8L471.4 271.0L463.8 264.3L452.4 254.8L436.2 242.4L436.0 241.0L450.5 244.9L457.0 245.2L457.0 243.3L447.6 241.4L445.7 236.7L439.0 236.7L429.5 228.0L418.0 221.4L414.3 212.0L417.0 210.0L414.3 205.2L402.9 207.0L395.0 212.0L385.7 211.0L382.0 208.0L372.4 209.0L371.4 206.2L367.6 206.2L366.7 211.0L370.5 213.8L376.0 212.9L381.0 215.7L383.8 218.6L391.4 218.6L399.0 219.5L401.0 222.4L407.6 226.2L410.5 231.9L408.6 238.6L393.3 237.0L376.0 236.7L357.0 237.6L338.0 239.5L322.9 241.4L311.4 245.2L300.0 249.0L290.5 252.9L281.0 258.6L279.5 264.0L277.5 270.0L275.5 273.0L274.5 266.0L273.0 262.0L271.4 262.4L256.2 269.0L242.9 276.7L223.8 285.2L204.8 291.9L185.7 299.5L172.0 304.0L161.0 308.1L160.0 302.4L160.0 291.0L162.9 284.3L170.5 283.3L172.4 277.6L176.0 276.7L183.8 276.7L183.8 274.8L176.2 274.8L171.4 273.8L164.8 268.0L168.0 261.0L165.7 260.5L161.0 262.4L160.0 257.6L153.3 257.6L150.5 260.5L149.5 257.6L152.4 253.8L150.5 250.0L143.8 249.4L132.4 251.9L124.8 256.7L119.0 266.0L113.3 271.9L113.3 277.6L119.0 276.0L122.9 274.0L130.5 274.8L136.0 277.6L138.0 283.0L142.9 295.7L142.0 300.5L138.0 308.0L128.6 315.7L119.0 322.4L111.4 332.9L102.0 339.5L98.0 341.0ZM394.3 237.6L395.2 241.4L414.3 251.0L425.7 258.6L431.4 264.3L432.4 260.5L429.5 254.8L418.0 247.0L402.9 240.5ZM562.6 279.5L563.4 285.2L567.5 290.1L574.0 294.2L579.7 293.4L583.8 299.1L586.3 301.6L587.4 299.1L582.2 291.7L578.9 286.8L576.5 277.0L570.7 277.0L564.2 278.6ZM753.0 253.5L755.5 254.3L754.6 264.0L756.3 275.6L756.3 283.7L753.8 291.0L750.6 288.6L749.7 283.7L747.3 281.3L748.9 277.2L751.4 273.9L748.9 270.6L750.9 262.5L750.6 256.0ZM701.5 236.0L706.0 235.5L710.5 237.5L706.0 239.5L702.0 238.5ZM825.0 319.7L829.1 321.4L834.0 327.9L842.2 332.8L847.1 339.4L853.7 344.3L851.2 345.9L843.8 342.7L838.9 336.9L832.4 332.8L827.5 326.3ZM824.2 339.4L826.7 341.0L829.9 339.4L834.0 336.9L837.3 340.2L841.4 341.8L843.8 344.3L851.2 345.9L857.0 350.0L852.0 354.0L843.8 355.0L837.3 355.7L830.8 352.5L820.9 351.7L804.6 350.8L788.2 351.7L771.8 355.0L755.5 359.0L744.0 363.1L730.9 366.0L720.0 367.5L716.2 364.0L720.0 361.5L735.8 360.7L747.3 357.4L763.6 352.5L780.0 349.2L796.4 347.2L807.8 345.9L817.7 344.3L825.8 346.8L828.3 344.3ZM883.0 370.0L884.0 365.0L890.0 363.0L903.0 363.0L903.0 370.0L888.0 373.0ZM842.0 376.0L844.0 375.0L852.0 383.0L862.0 387.0L864.0 389.0L860.0 390.0L850.0 386.0L843.0 379.0ZM241.0 365.2L250.5 363.3L267.6 364.3L281.0 363.3L286.7 357.6L288.6 352.0L292.4 352.0L290.5 363.3L284.8 374.8L279.0 386.2L276.2 384.3L279.0 378.6L271.4 378.6L264.8 378.6L265.7 373.8L260.0 370.0L248.6 368.0ZM335.2 379.5L342.0 378.6L349.5 377.6L361.0 376.7L372.4 372.9L374.0 375.7L366.7 380.5L357.0 384.3L345.7 384.7L338.0 382.8ZM382.9 369.0L387.6 364.3L391.4 357.6L399.0 354.8L402.9 354.8L402.0 358.6L395.2 364.3L385.7 370.6ZM457.0 352.3L463.8 353.8L471.4 352.9L482.9 351.5L500.0 352.0L511.4 354.8L522.9 360.5L538.0 363.3L557.0 367.0L572.4 370.0L582.0 368.0L583.8 370.0L578.0 374.4L568.6 375.7L553.3 373.8L538.0 370.0L521.0 368.0L507.6 362.4L500.0 357.6L490.5 356.7L479.0 358.6L469.5 359.5L462.0 357.6L458.0 354.8ZM616.2 382.4L623.8 383.3L633.3 387.0L641.0 388.0L650.5 383.3L660.0 381.4L671.4 380.0L673.0 383.3L667.6 387.0L658.0 390.0L648.6 391.0L639.0 393.4L631.4 391.0L622.0 387.0L616.2 385.2ZM397.0 506.2L401.0 505.2L405.7 512.0L410.5 521.4L416.2 532.9L422.0 544.3L423.8 550.0L427.6 565.2L430.5 580.5L432.4 597.6L433.3 616.7L432.4 635.7L430.5 654.8L426.7 677.6L422.0 698.6L416.2 717.6L410.5 732.9L404.8 750.0L391.4 772.9L383.8 786.2L376.2 795.7L366.7 809.0L359.0 821.4L356.0 819.0L363.0 807.0L372.0 794.0L380.0 784.0L388.0 771.0L401.0 750.0L403.8 740.5L403.8 731.0L406.7 727.0L406.7 721.4L402.9 720.5L402.9 715.7L408.6 714.8L414.3 712.0L412.4 706.2L406.7 704.3L410.5 700.5L417.0 694.8L418.0 687.0L422.0 679.5L421.0 672.0L424.8 664.3L422.9 659.5L417.0 658.6L418.0 654.8L425.7 652.9L427.6 639.5L424.8 632.0L426.7 626.2L428.6 612.9L424.8 607.0L425.7 597.6L420.0 593.8L422.9 588.0L419.0 582.4L422.0 571.0L420.0 561.4L418.0 550.0L414.3 544.3L415.2 538.6L410.5 529.0L406.7 519.5L401.0 512.0ZM338.0 846.2L341.0 842.0L351.4 832.9L353.0 835.0L345.0 842.0L340.0 848.0ZM329.5 853.8L334.0 851.0L336.0 853.0L331.0 856.0ZM298.0 899.5L304.5 896.0L305.5 899.0L299.0 902.0ZM270.5 934.8L275.0 935.7L283.0 925.0L290.5 912.0L300.0 900.5L300.0 896.7L290.5 906.0L281.0 921.4L275.0 932.9L271.0 932.0ZM369.5 662.4L376.2 653.8L380.0 647.0L387.6 641.4L393.3 633.8L397.0 630.0L401.0 633.8L401.0 645.2L397.0 651.0L395.2 645.2L396.2 639.5L391.4 643.3L383.8 651.0L382.0 656.7L376.2 658.6L371.0 664.0ZM397.0 664.3L404.8 658.6L408.6 672.0L404.8 672.9L403.8 664.3L399.0 669.0ZM337.0 718.6L338.0 698.6L341.0 692.9L345.7 700.5L342.9 702.4L340.0 702.4L339.0 718.6ZM218.0 419.5L223.8 422.4L223.8 428.0L218.0 432.0L214.3 436.7L209.5 439.5L206.7 435.7L201.0 428.0L203.8 427.0L209.5 433.8L214.3 430.0L215.2 423.3ZM195.2 447.0L201.0 441.4L207.6 441.4L208.6 445.2L204.8 451.0L199.0 455.7L196.2 452.0ZM157.0 464.3L172.4 464.3L183.8 456.7L189.5 452.0L190.5 458.6L187.6 468.0L191.4 472.0L199.0 469.0L200.0 479.5L197.0 483.3L202.0 487.0L202.9 494.8L199.0 502.4L193.3 503.3L191.4 498.6L195.2 491.0L187.6 491.0L186.7 483.3L183.8 479.5L180.0 481.4L178.0 487.0L183.8 492.9L183.8 500.5L176.2 498.6L166.7 500.5L164.8 508.0L166.7 515.7L170.5 521.4L172.4 531.0L169.5 532.0L166.7 523.3L163.8 515.7L157.0 519.5L151.4 515.7L157.0 512.0L159.0 502.4L153.3 500.5L147.6 502.4L141.0 504.3L140.0 512.0L141.0 519.5L137.0 520.5L134.3 513.8L136.2 506.2L130.5 504.3L124.8 507.0L128.6 502.4L140.0 498.6L147.6 492.9L153.3 489.0L154.3 479.5L157.0 476.7L157.0 487.0L162.9 489.0L164.8 483.3L161.0 481.4L164.8 473.8L161.0 472.0ZM189.5 512.0L195.2 506.2L204.8 502.4L209.5 492.9L212.4 500.5L218.0 496.7L229.5 498.6L227.6 502.4L219.0 504.3L218.0 512.0L214.3 517.6L210.5 523.3L206.7 531.0L204.8 527.0L199.0 525.2L201.0 532.9L197.0 531.0L191.4 521.4ZM221.0 523.3L227.6 515.7L231.4 513.8L229.5 517.6L223.8 524.3ZM98.0 507.0L109.5 506.2L116.2 507.0L113.3 513.8L115.2 522.4L107.6 522.4L106.7 525.2L98.0 525.2ZM110.5 536.7L115.2 537.6L116.2 542.4L124.8 544.3L125.7 547.0L119.0 547.0L111.4 546.2L109.5 542.4ZM199.0 538.6L203.8 536.7L208.6 542.4L212.4 550.0L214.0 556.0L206.0 557.0L203.0 553.0L197.0 550.0ZM98.0 588.0L107.6 593.8L111.4 607.0L113.3 622.4L117.0 633.8L124.8 637.6L128.6 630.0L126.7 620.5L136.2 622.4L138.0 628.0L134.3 633.8L130.5 641.4L136.2 649.0L147.6 645.2L161.0 647.0L172.4 647.0L180.0 641.4L191.4 639.5L192.4 647.0L187.6 651.0L182.0 656.7L174.3 656.7L174.3 670.0L166.7 672.0L162.9 666.2L155.2 662.4L145.7 668.0L143.8 675.7L149.5 687.0L153.3 698.6L149.5 696.7L143.8 691.0L138.0 683.3L134.3 673.8L132.4 666.2L126.7 662.4L124.8 672.0L115.2 673.8L107.6 679.5L98.0 679.5ZM138.0 620.5L143.8 612.9L153.3 599.5L159.0 584.3L164.8 574.8L170.5 565.2L169.5 557.6L174.3 555.7L175.2 561.4L173.3 572.9L168.6 584.3L164.8 595.7L157.0 605.2L147.6 616.7L142.0 622.4ZM145.7 628.0L149.5 622.4L157.0 616.7L166.7 605.2L172.4 597.6L178.0 588.0L183.8 586.2L184.8 595.7L183.8 605.2L176.2 605.2L168.6 611.0L162.9 618.6L161.0 626.2L155.2 633.8L149.5 635.7L151.4 628.0ZM176.2 567.0L180.0 553.8L184.8 552.0L184.8 572.9L180.0 576.7ZM186.7 586.2L195.2 576.7L195.2 571.0L199.0 571.0L201.0 576.7L195.2 580.5L187.6 588.0ZM186.7 592.0L197.0 590.0L193.3 597.6L195.2 607.0L186.7 606.2ZM208.6 581.4L216.2 579.5L220.0 583.3L214.3 587.0L210.5 585.2ZM198.0 633.8L204.8 632.0L214.3 631.0L212.4 635.7L204.8 637.6L199.0 637.0ZM173.3 691.0L180.0 686.2L188.6 685.6L191.4 691.0L183.8 693.8L176.2 695.0ZM117.0 567.0L122.9 564.3L128.6 571.0L132.4 563.3L132.4 554.8L136.2 553.8L137.0 563.3L138.0 569.0L128.6 572.9L126.7 582.4L122.9 593.8L120.0 597.0L121.0 590.0L117.0 586.2L120.0 576.7ZM98.0 580.5L109.5 580.5L111.4 576.7L111.4 585.2L98.0 586.2ZM141.0 586.2L145.7 584.3L147.6 576.7L151.4 575.7L145.7 593.8L141.0 592.9ZM119.0 607.0L124.8 601.4L127.6 607.0L124.8 616.7L121.0 614.8ZM98.0 702.4L111.4 706.2L121.0 710.0L128.6 710.0L136.2 717.6L140.0 721.4L149.5 719.5L152.4 710.0L157.0 706.2L165.7 702.4L169.5 704.3L173.3 712.0L167.6 715.7L166.7 721.4L162.0 727.0L164.8 738.6L157.0 744.3L151.4 742.4L145.7 734.8L138.0 725.2L132.4 721.4L124.8 723.3L117.0 729.0L113.3 721.4L105.7 717.6L98.0 717.6ZM98.0 693.0L111.4 691.0L119.0 688.0L123.8 692.9L130.5 696.7L126.7 702.4L117.0 700.5L109.5 698.6L98.0 697.0ZM150.5 673.8L154.3 672.9L158.0 681.4L156.2 687.0L152.4 681.4ZM109.5 672.0L119.0 669.0L125.7 670.0L122.9 675.7L111.4 674.8ZM157.0 552.9L164.8 552.0L162.9 556.7L158.0 557.0ZM196.0 552.0L206.0 551.0L204.0 556.0L198.0 557.0ZM113.0 753.0L122.0 751.5L130.0 756.0L128.0 762.0L122.0 759.0L116.0 763.0L113.0 760.0ZM174.0 752.0L177.0 751.5L178.0 760.0L179.0 768.0L176.0 767.0L174.5 760.0ZM98.0 797.0L103.0 798.0L107.6 805.0L104.0 805.0L98.0 802.0Z" fill="#106923" stroke="#000" stroke-width="1.2" stroke-linejoin="round"/><g fill="#106923" stroke="#000" stroke-width="1"><ellipse cx="382" cy="212.5" rx="3" ry="1.6"/><ellipse cx="399" cy="217" rx="2.8" ry="1.8"/><ellipse cx="590.7" cy="305.2" rx="2.6" ry="1.5"/><ellipse cx="652.9" cy="291.4" rx="3" ry="1.5"/><ellipse cx="732.5" cy="252.6" rx="1.2" ry="1.2"/><ellipse cx="784.6" cy="284.2" rx="1.5" ry="1.5"/><ellipse cx="772.6" cy="292.7" rx="3" ry="1.6"/><ellipse cx="780" cy="294.4" rx="1.6" ry="2.2"/><ellipse cx="822.2" cy="314" rx="1.3" ry="2.2"/><ellipse cx="605" cy="372.5" rx="1.5" ry="2"/><ellipse cx="870" cy="388" rx="1.2" ry="2.2"/><ellipse cx="368.6" cy="668" rx="1.2" ry="1.6"/><ellipse cx="341.5" cy="686" rx="1.1" ry="1.7"/><ellipse cx="392.4" cy="663.3" rx="1.1" ry="2"/><ellipse cx="354.5" cy="822" rx="1.3" ry="1.3"/><ellipse cx="354.5" cy="829" rx="1.2" ry="1.2"/><ellipse cx="231" cy="578" rx="1.2" ry="1.2"/><ellipse cx="222" cy="596" rx="1.2" ry="1.2"/><ellipse cx="214.5" cy="460" rx="1.2" ry="1.2"/><ellipse cx="227" cy="457" rx="1.2" ry="1.2"/><ellipse cx="192" cy="636" rx="1.2" ry="1.2"/><ellipse cx="565.8" cy="313" rx="1.5" ry="2.5"/></g><path d="M100 280L104 281L108 282.6L112 281.6L115.5 279" fill="none" stroke="#000" stroke-width="2.6"/><path d="M100 280L104 281L108 282.6L112 281.6L115.5 279" fill="none" stroke="#808080" stroke-width="0.9"/>
<line x1="185.5" y1="150" x2="185.5" y2="951" stroke="#fff" stroke-opacity=".56" stroke-width="1"/>
<line x1="328.5" y1="150" x2="328.5" y2="951" stroke="#fff" stroke-opacity=".56" stroke-width="1"/>
<line x1="471.5" y1="150" x2="471.5" y2="951" stroke="#fff" stroke-opacity=".56" stroke-width="1"/>
<line x1="614.5" y1="150" x2="614.5" y2="951" stroke="#fff" stroke-opacity=".56" stroke-width="1"/>
<line x1="757.5" y1="150" x2="757.5" y2="951" stroke="#fff" stroke-opacity=".56" stroke-width="1"/>
<line x1="100" y1="350.5" x2="901" y2="350.5" stroke="#fff" stroke-opacity=".56" stroke-width="1"/>
<line x1="100" y1="550.5" x2="901" y2="550.5" stroke="#fff" stroke-opacity=".56" stroke-width="1"/>
<line x1="100" y1="750.5" x2="901" y2="750.5" stroke="#fff" stroke-opacity=".56" stroke-width="1"/>
</g>
<path d="M141.9 282.95l6.05 6.05l-6.05 6.05l-6.05 -6.05z" fill="#ffff00" stroke="#000" stroke-width="2.7" stroke-linejoin="miter"/><path d="M578.1 249.65l6.05 6.05l-6.05 6.05l-6.05 -6.05z" fill="#ffff00" stroke="#000" stroke-width="2.7" stroke-linejoin="miter"/><path d="M660 256.75l6.05 6.05l-6.05 6.05l-6.05 -6.05z" fill="#ffff00" stroke="#000" stroke-width="2.7" stroke-linejoin="miter"/><path d="M820 297.55l6.05 6.05l-6.05 6.05l-6.05 -6.05z" fill="#ffff00" stroke="#000" stroke-width="2.7" stroke-linejoin="miter"/><path d="M778.4 337.55l6.05 6.05l-6.05 6.05l-6.05 -6.05z" fill="#ffff00" stroke="#000" stroke-width="2.7" stroke-linejoin="miter"/><path d="M856.6 343.55l6.05 6.05l-6.05 6.05l-6.05 -6.05z" fill="#ffff00" stroke="#000" stroke-width="2.7" stroke-linejoin="miter"/><path d="M611.4 373.45l6.05 6.05l-6.05 6.05l-6.05 -6.05z" fill="#ffff00" stroke="#000" stroke-width="2.7" stroke-linejoin="miter"/><path d="M567 503.55l6.05 6.05l-6.05 6.05l-6.05 -6.05z" fill="#ffff00" stroke="#000" stroke-width="2.7" stroke-linejoin="miter"/><path d="M779 471.95l6.05 6.05l-6.05 6.05l-6.05 -6.05z" fill="#ff0000" stroke="#000" stroke-width="2.7" stroke-linejoin="miter"/>
<rect x="100.5" y="150.5" width="800" height="800" fill="none" stroke="#000" stroke-width="2.9"/>
<path d="M100.2 150.5v-4.5M100.2 950.5v4.5M113.9 150.5v-4.5M113.9 950.5v4.5M128.2 150.5v-4.5M128.2 950.5v4.5M142.5 150.5v-4.5M142.5 950.5v4.5M156.8 150.5v-4.5M156.8 950.5v4.5M171.1 150.5v-4.5M171.1 950.5v4.5M185.4 150.5v-8M185.4 950.5v8M199.7 150.5v-4.5M199.7 950.5v4.5M214.0 150.5v-4.5M214.0 950.5v4.5M228.3 150.5v-4.5M228.3 950.5v4.5M242.6 150.5v-4.5M242.6 950.5v4.5M256.9 150.5v-4.5M256.9 950.5v4.5M271.2 150.5v-4.5M271.2 950.5v4.5M285.5 150.5v-4.5M285.5 950.5v4.5M299.8 150.5v-4.5M299.8 950.5v4.5M314.1 150.5v-4.5M314.1 950.5v4.5M328.4 150.5v-8M328.4 950.5v8M342.7 150.5v-4.5M342.7 950.5v4.5M357.0 150.5v-4.5M357.0 950.5v4.5M371.3 150.5v-4.5M371.3 950.5v4.5M385.6 150.5v-4.5M385.6 950.5v4.5M399.9 150.5v-4.5M399.9 950.5v4.5M414.2 150.5v-4.5M414.2 950.5v4.5M428.5 150.5v-4.5M428.5 950.5v4.5M442.8 150.5v-4.5M442.8 950.5v4.5M457.1 150.5v-4.5M457.1 950.5v4.5M471.4 150.5v-8M471.4 950.5v8M485.7 150.5v-4.5M485.7 950.5v4.5M500.0 150.5v-4.5M500.0 950.5v4.5M514.3 150.5v-4.5M514.3 950.5v4.5M528.6 150.5v-4.5M528.6 950.5v4.5M542.9 150.5v-4.5M542.9 950.5v4.5M557.2 150.5v-4.5M557.2 950.5v4.5M571.5 150.5v-4.5M571.5 950.5v4.5M585.8 150.5v-4.5M585.8 950.5v4.5M600.1 150.5v-4.5M600.1 950.5v4.5M614.4 150.5v-8M614.4 950.5v8M628.7 150.5v-4.5M628.7 950.5v4.5M643.0 150.5v-4.5M643.0 950.5v4.5M657.3 150.5v-4.5M657.3 950.5v4.5M671.6 150.5v-4.5M671.6 950.5v4.5M685.9 150.5v-4.5M685.9 950.5v4.5M700.2 150.5v-4.5M700.2 950.5v4.5M714.5 150.5v-4.5M714.5 950.5v4.5M728.8 150.5v-4.5M728.8 950.5v4.5M743.1 150.5v-4.5M743.1 950.5v4.5M757.4 150.5v-8M757.4 950.5v8M771.7 150.5v-4.5M771.7 950.5v4.5M786.0 150.5v-4.5M786.0 950.5v4.5M800.3 150.5v-4.5M800.3 950.5v4.5M814.6 150.5v-4.5M814.6 950.5v4.5M828.9 150.5v-4.5M828.9 950.5v4.5M843.2 150.5v-4.5M843.2 950.5v4.5M857.5 150.5v-4.5M857.5 950.5v4.5M871.8 150.5v-4.5M871.8 950.5v4.5M886.1 150.5v-4.5M886.1 950.5v4.5M900.4 150.5v-8M900.4 950.5v8M100.5 150.5h-8M900.5 150.5h8M100.5 170.5h-4.5M900.5 170.5h4.5M100.5 190.5h-4.5M900.5 190.5h4.5M100.5 210.5h-4.5M900.5 210.5h4.5M100.5 230.5h-4.5M900.5 230.5h4.5M100.5 250.5h-4.5M900.5 250.5h4.5M100.5 270.5h-4.5M900.5 270.5h4.5M100.5 290.5h-4.5M900.5 290.5h4.5M100.5 310.5h-4.5M900.5 310.5h4.5M100.5 330.5h-4.5M900.5 330.5h4.5M100.5 350.5h-8M900.5 350.5h8M100.5 370.5h-4.5M900.5 370.5h4.5M100.5 390.5h-4.5M900.5 390.5h4.5M100.5 410.5h-4.5M900.5 410.5h4.5M100.5 430.5h-4.5M900.5 430.5h4.5M100.5 450.5h-4.5M900.5 450.5h4.5M100.5 470.5h-4.5M900.5 470.5h4.5M100.5 490.5h-4.5M900.5 490.5h4.5M100.5 510.5h-4.5M900.5 510.5h4.5M100.5 530.5h-4.5M900.5 530.5h4.5M100.5 550.5h-8M900.5 550.5h8M100.5 570.5h-4.5M900.5 570.5h4.5M100.5 590.5h-4.5M900.5 590.5h4.5M100.5 610.5h-4.5M900.5 610.5h4.5M100.5 630.5h-4.5M900.5 630.5h4.5M100.5 650.5h-4.5M900.5 650.5h4.5M100.5 670.5h-4.5M900.5 670.5h4.5M100.5 690.5h-4.5M900.5 690.5h4.5M100.5 710.5h-4.5M900.5 710.5h4.5M100.5 730.5h-4.5M900.5 730.5h4.5M100.5 750.5h-8M900.5 750.5h8M100.5 770.5h-4.5M900.5 770.5h4.5M100.5 790.5h-4.5M900.5 790.5h4.5M100.5 810.5h-4.5M900.5 810.5h4.5M100.5 830.5h-4.5M900.5 830.5h4.5M100.5 850.5h-4.5M900.5 850.5h4.5M100.5 870.5h-4.5M900.5 870.5h4.5M100.5 890.5h-4.5M900.5 890.5h4.5M100.5 910.5h-4.5M900.5 910.5h4.5M100.5 930.5h-4.5M900.5 930.5h4.5M100.5 950.5h-8M900.5 950.5h8" stroke="#000" stroke-width="1" fill="none"/>
<text class="ax" x="171" y="134.8" textLength="32" lengthAdjust="spacingAndGlyphs">-89°15'</text>
<text class="ax" x="171" y="973.3" textLength="32" lengthAdjust="spacingAndGlyphs">-89°15'</text>
<text class="ax" x="314" y="134.8" textLength="32" lengthAdjust="spacingAndGlyphs">-89°00'</text>
<text class="ax" x="314" y="973.3" textLength="32" lengthAdjust="spacingAndGlyphs">-89°00'</text>
<text class="ax" x="457" y="134.8" textLength="32" lengthAdjust="spacingAndGlyphs">-88°45'</text>
<text class="ax" x="457" y="973.3" textLength="32" lengthAdjust="spacingAndGlyphs">-88°45'</text>
<text class="ax" x="600" y="134.8" textLength="32" lengthAdjust="spacingAndGlyphs">-88°30'</text>
<text class="ax" x="600" y="973.3" textLength="32" lengthAdjust="spacingAndGlyphs">-88°30'</text>
<text class="ax" x="743" y="134.8" textLength="32" lengthAdjust="spacingAndGlyphs">-88°15'</text>
<text class="ax" x="743" y="973.3" textLength="32" lengthAdjust="spacingAndGlyphs">-88°15'</text>
<text class="ax" x="886" y="134.8" textLength="32" lengthAdjust="spacingAndGlyphs">-88°00'</text>
<text class="ax" x="886" y="973.3" textLength="32" lengthAdjust="spacingAndGlyphs">-88°00'</text>
<text class="ax" x="55.5" y="153.7" textLength="29.5" lengthAdjust="spacingAndGlyphs">30°30'</text>
<text class="ax" x="915" y="153.7" textLength="29.5" lengthAdjust="spacingAndGlyphs">30°30'</text>
<text class="ax" x="55.5" y="353.7" textLength="29.5" lengthAdjust="spacingAndGlyphs">30°15'</text>
<text class="ax" x="915" y="353.7" textLength="29.5" lengthAdjust="spacingAndGlyphs">30°15'</text>
<text class="ax" x="55.5" y="553.7" textLength="29.5" lengthAdjust="spacingAndGlyphs">30°00'</text>
<text class="ax" x="915" y="553.7" textLength="29.5" lengthAdjust="spacingAndGlyphs">30°00'</text>
<text class="ax" x="55.5" y="753.7" textLength="29.5" lengthAdjust="spacingAndGlyphs">29°45'</text>
<text class="ax" x="915" y="753.7" textLength="29.5" lengthAdjust="spacingAndGlyphs">29°45'</text>
<text class="ax" x="55.5" y="953.7" textLength="29.5" lengthAdjust="spacingAndGlyphs">29°30'</text>
<text class="ax" x="915" y="953.7" textLength="29.5" lengthAdjust="spacingAndGlyphs">29°30'</text>
<text class="b" x="500" y="29.5" font-size="18" text-anchor="middle" textLength="538" lengthAdjust="spacingAndGlyphs">University of Southern Mississippi Ocean Cube (AMSEAS)</text>
<text class="b" x="500" y="1044" font-size="18" text-anchor="middle" textLength="538" lengthAdjust="spacingAndGlyphs">University of Southern Mississippi Ocean Cube (AMSEAS)</text>
<text class="ser" x="276.5" y="109.5" font-size="16.5" textLength="448" lengthAdjust="spacingAndGlyphs">Currents at 32 Feet FORECAST valid Aug 27 2020 2100Z</text>
<text class="ser" x="772" y="109.5" font-size="12" textLength="127.5" lengthAdjust="spacingAndGlyphs">USM Test Range, MS</text>
<path d="M120 38.8l6.2 6.2l-6.2 6.2l-6.2 -6.2z" fill="#ffff00" stroke="#000" stroke-width="2.7" stroke-linejoin="miter"/>
<path d="M120 53.8l6.2 6.2l-6.2 6.2l-6.2 -6.2z" fill="#ff0000" stroke="#000" stroke-width="2.7" stroke-linejoin="miter"/>
<text class="b" x="131" y="49.5" font-size="12.5" textLength="90.5" lengthAdjust="spacingAndGlyphs">NDBC Station</text>
<text class="b" x="131" y="64.5" font-size="12.5" textLength="145.5" lengthAdjust="spacingAndGlyphs">Inactive NDBC Station</text>
<rect x="547" y="40.5" width="347.5" height="39" fill="#fff" stroke="#000" stroke-width="2"/>
<text class="b" x="547.2" y="54.4" font-size="12" textLength="49" lengthAdjust="spacingAndGlyphs">"1.0 kts"</text>
<path d="M792.3 50.3H880" stroke="#000" stroke-width="1" fill="none"/><path d="M893.5 50.3l-15 -5.5v11z" fill="#000"/>
<text class="b" x="547.2" y="64.6" font-size="12" textLength="49" lengthAdjust="spacingAndGlyphs">"2.0 kts"</text>
<path d="M698.8 60.5H880" stroke="#000" stroke-width="1" fill="none"/><path d="M893.5 60.5l-15 -5.5v11z" fill="#000"/>
<text class="b" x="547.2" y="74.8" font-size="12" textLength="49" lengthAdjust="spacingAndGlyphs">"3.0 kts"</text>
<path d="M607.3 70.7H880" stroke="#000" stroke-width="1" fill="none"/><path d="M893.5 70.7l-15 -5.5v11z" fill="#000"/>
<rect x="547" y="40.5" width="347.5" height="39" fill="none" stroke="#000" stroke-width="2.2"/>
<rect x="980" y="400" width="20" height="300" fill="url(#cb)" stroke="#000" stroke-width="2.4"/>
<text x="1014" y="704" font-size="11.2">0.0</text>
<text x="1014" y="674" font-size="11.2">0.2</text>
<path d="M981.2 670h17.6" stroke="#c0c0c0" stroke-opacity=".7" stroke-width="1"/>
<text x="1014" y="644" font-size="11.2">0.4</text>
<path d="M981.2 640h17.6" stroke="#c0c0c0" stroke-opacity=".7" stroke-width="1"/>
<text x="1014" y="614" font-size="11.2">0.6</text>
<path d="M981.2 610h17.6" stroke="#c0c0c0" stroke-opacity=".7" stroke-width="1"/>
<text x="1014" y="584" font-size="11.2">0.8</text>
<path d="M981.2 580h17.6" stroke="#c0c0c0" stroke-opacity=".7" stroke-width="1"/>
<text x="1014" y="554" font-size="11.2">1.0</text>
<path d="M981.2 550h17.6" stroke="#c0c0c0" stroke-opacity=".7" stroke-width="1"/>
<text x="1014" y="524" font-size="11.2">1.2</text>
<path d="M981.2 520h17.6" stroke="#c0c0c0" stroke-opacity=".7" stroke-width="1"/>
<text x="1014" y="494" font-size="11.2">1.4</text>
<path d="M981.2 490h17.6" stroke="#c0c0c0" stroke-opacity=".7" stroke-width="1"/>
<text x="1014" y="464" font-size="11.2">1.6</text>
<path d="M981.2 460h17.6" stroke="#c0c0c0" stroke-opacity=".7" stroke-width="1"/>
<text x="1014" y="434" font-size="11.2">1.8</text>
<path d="M981.2 430h17.6" stroke="#c0c0c0" stroke-opacity=".7" stroke-width="1"/>
<text x="1014" y="404" font-size="11.2">2.0</text>
<path d="M1001 700h6M1001 670h6M1001 640h6M1001 610h6M1001 580h6M1001 550h6M1001 520h6M1001 490h6M1001 460h6M1001 430h6M1001 400h6" stroke="#000" stroke-width="1"/>
<text class="b" x="0" y="0" font-size="13" text-anchor="middle" textLength="67" lengthAdjust="spacingAndGlyphs" transform="translate(1054.5 550.5) rotate(-90)">Speed (kt)</text>
</svg></body></html>
